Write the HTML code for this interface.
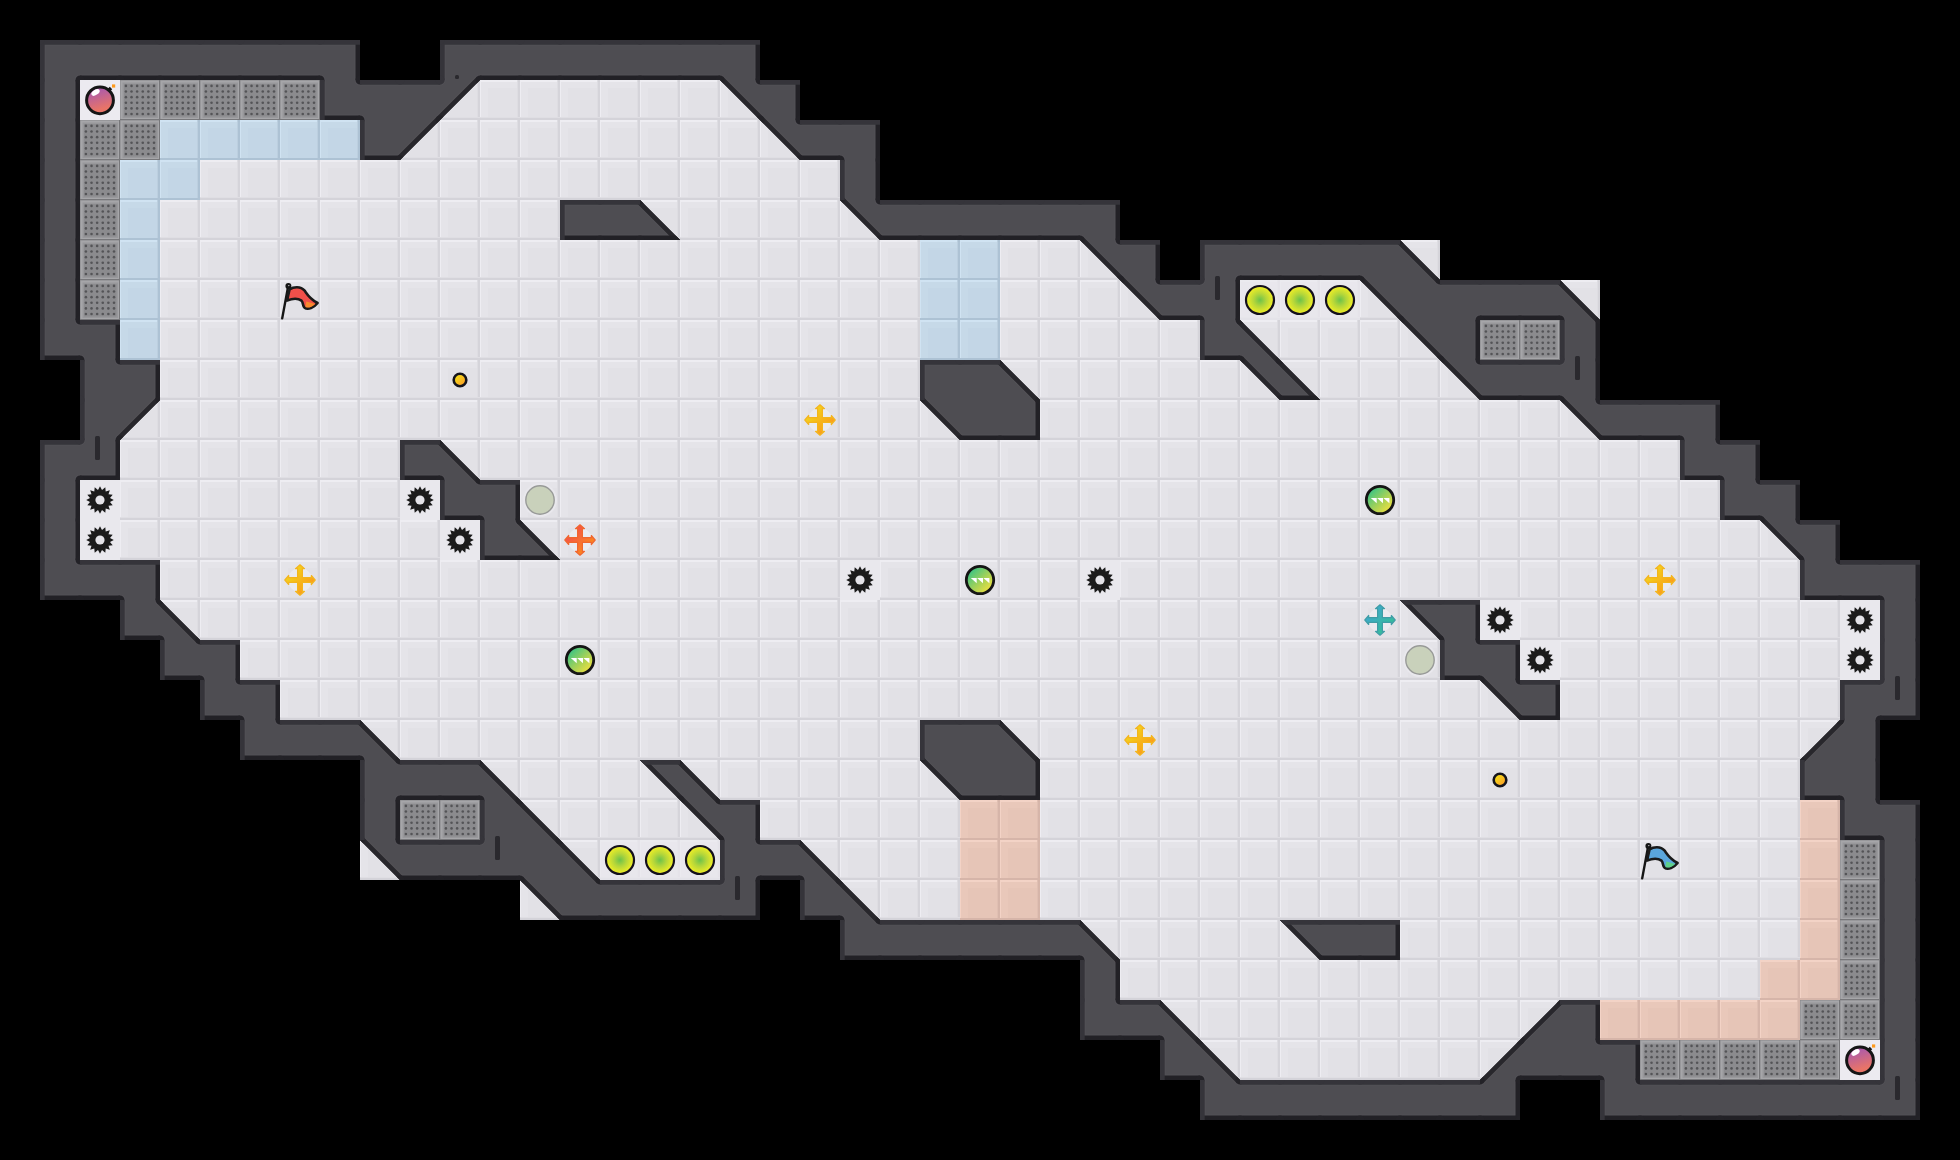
<!DOCTYPE html>
<html><head><meta charset="utf-8"><title>Map</title>
<style>html,body{margin:0;padding:0;background:#000;overflow:hidden}svg{display:block}</style></head>
<body><svg width="1960" height="1160" viewBox="0 0 1960 1160"><defs>
<pattern id="pf" width="40" height="40" patternUnits="userSpaceOnUse">
<rect width="40" height="40" fill="#e5e4e9"/><rect x="8" y="8" width="29" height="30" fill="#e2e1e6"/>
<rect width="40" height="2" fill="#eeedf2"/><rect width="1" height="40" fill="#eeedf2"/>
<rect x="37" width="1" height="40" fill="#dedde2"/><rect x="38" width="2" height="40" fill="#d5d4da"/>
<rect y="38" width="40" height="2" fill="#d4d3d9"/><rect y="37" width="40" height="1" fill="#dfdee3"/>
</pattern>
<pattern id="pb" width="40" height="40" patternUnits="userSpaceOnUse">
<rect width="40" height="40" fill="#c6d9e8"/><rect x="8" y="8" width="29" height="30" fill="#c3d6e6"/>
<rect width="40" height="2" fill="#d0e3f2"/><rect width="1" height="40" fill="#d0e3f2"/>
<rect x="37" width="1" height="40" fill="#bccfdf"/><rect x="38" width="2" height="40" fill="#adc2d4"/>
<rect y="38" width="40" height="2" fill="#adc2d4"/>
</pattern>
<pattern id="pr" width="40" height="40" patternUnits="userSpaceOnUse">
<rect width="40" height="40" fill="#e9c8ba"/><rect x="8" y="8" width="29" height="30" fill="#e6c5b7"/>
<rect width="40" height="2" fill="#f3d3c6"/><rect width="1" height="40" fill="#f3d3c6"/>
<rect x="37" width="1" height="40" fill="#e0bfb2"/><rect x="38" width="2" height="40" fill="#d6b5a9"/>
<rect y="38" width="40" height="2" fill="#d6b5a9"/>
</pattern>
<pattern id="pg" width="40" height="40" patternUnits="userSpaceOnUse">
<rect width="40" height="40" fill="#88888b"/><rect x=".5" y=".5" width="39" height="39" fill="#a6a6a9"/><rect x="2.5" y="2.5" width="35.5" height="35.5" fill="#98989b"/><rect x="4" y="4" width="32.5" height="32.5" fill="#8b8b8e"/><rect x="39" width="1" height="40" fill="#77777a"/><rect y="39" width="40" height="1" fill="#77777a"/>
<g fill="#545457"><circle cx="5.90" cy="5.90" r="1.3"/><circle cx="5.90" cy="11.52" r="1.3"/><circle cx="5.90" cy="17.14" r="1.3"/><circle cx="5.90" cy="22.76" r="1.3"/><circle cx="5.90" cy="28.38" r="1.3"/><circle cx="5.90" cy="34.00" r="1.3"/><circle cx="11.52" cy="5.90" r="1.3"/><circle cx="11.52" cy="11.52" r="1.3"/><circle cx="11.52" cy="17.14" r="1.3"/><circle cx="11.52" cy="22.76" r="1.3"/><circle cx="11.52" cy="28.38" r="1.3"/><circle cx="11.52" cy="34.00" r="1.3"/><circle cx="17.14" cy="5.90" r="1.3"/><circle cx="17.14" cy="11.52" r="1.3"/><circle cx="17.14" cy="17.14" r="1.3"/><circle cx="17.14" cy="22.76" r="1.3"/><circle cx="17.14" cy="28.38" r="1.3"/><circle cx="17.14" cy="34.00" r="1.3"/><circle cx="22.76" cy="5.90" r="1.3"/><circle cx="22.76" cy="11.52" r="1.3"/><circle cx="22.76" cy="17.14" r="1.3"/><circle cx="22.76" cy="22.76" r="1.3"/><circle cx="22.76" cy="28.38" r="1.3"/><circle cx="22.76" cy="34.00" r="1.3"/><circle cx="28.38" cy="5.90" r="1.3"/><circle cx="28.38" cy="11.52" r="1.3"/><circle cx="28.38" cy="17.14" r="1.3"/><circle cx="28.38" cy="22.76" r="1.3"/><circle cx="28.38" cy="28.38" r="1.3"/><circle cx="28.38" cy="34.00" r="1.3"/><circle cx="34.00" cy="5.90" r="1.3"/><circle cx="34.00" cy="11.52" r="1.3"/><circle cx="34.00" cy="17.14" r="1.3"/><circle cx="34.00" cy="22.76" r="1.3"/><circle cx="34.00" cy="28.38" r="1.3"/><circle cx="34.00" cy="34.00" r="1.3"/></g>
</pattern>
<radialGradient id="gb"><stop offset="0" stop-color="#6cc24a"/><stop offset=".45" stop-color="#b4d63a"/><stop offset="1" stop-color="#f4f024"/></radialGradient>
<linearGradient id="gp" x1="0" y1="0" x2="1" y2="1"><stop offset=".1" stop-color="#2fc28a"/><stop offset=".55" stop-color="#a6d257"/><stop offset=".9" stop-color="#f6e23c"/></linearGradient>
<linearGradient id="gbomb" x1="0" y1="0" x2=".3" y2="1"><stop offset=".1" stop-color="#a457b4"/><stop offset=".9" stop-color="#e87468"/></linearGradient>
<linearGradient id="gy" x1="0" y1="0" x2="1" y2="1"><stop offset=".2" stop-color="#f2d51c"/><stop offset=".8" stop-color="#fb9a1c"/></linearGradient>
<linearGradient id="go" x1="0" y1="0" x2="1" y2="1"><stop offset=".2" stop-color="#f4504a"/><stop offset=".8" stop-color="#fb8a1e"/></linearGradient>
<linearGradient id="gt" x1="0" y1="0" x2="1" y2="1"><stop offset=".2" stop-color="#3ea8cc"/><stop offset=".8" stop-color="#36bd98"/></linearGradient>
<linearGradient id="gc" x1="0" y1="0" x2="1" y2="1"><stop offset=".2" stop-color="#f6dc18"/><stop offset=".8" stop-color="#fba428"/></linearGradient>
<g id="gear"><rect x="-20" y="-20" width="40" height="40" fill="#e9e8ed"/><path d="M0.0 -13.8L2.0 -10.0L5.3 -12.7L5.7 -8.5L9.8 -9.8L8.5 -5.7L12.7 -5.3L10.0 -2.0L13.8 -0.0L10.0 2.0L12.7 5.3L8.5 5.7L9.8 9.8L5.7 8.5L5.3 12.7L2.0 10.0L0.0 13.8L-2.0 10.0L-5.3 12.7L-5.7 8.5L-9.8 9.8L-8.5 5.7L-12.7 5.3L-10.0 2.0L-13.8 0.0L-10.0 -2.0L-12.7 -5.3L-8.5 -5.7L-9.8 -9.8L-5.7 -8.5L-5.3 -12.7L-2.0 -10.0z" fill="#1b1b1b"/><circle r="4.6" fill="#e4e3e8"/></g>
<g id="bomb"><rect x="-20" y="-20" width="40" height="40" fill="#eceaf0"/><circle cx="0" cy=".3" r="13.4" fill="url(#gbomb)" stroke="#151515" stroke-width="3"/><path d="M8.5 -9.5L11 -12" stroke="#151515" stroke-width="3.4"/><rect x="12" y="-15.6" width="3.2" height="3.2" fill="#ff9a1c"/><ellipse cx="-4.5" cy="-7.6" rx="4.6" ry="2.6" fill="#fff" transform="rotate(-32 -4.5 -7.6)"/></g>
<g id="flagbase"><path d="M8.4 5L2.2 38.4" stroke="#151515" stroke-width="2.4" stroke-linecap="round" fill="none"/><circle cx="8.4" cy="6" r="3" fill="#151515"/><circle cx="8.8" cy="5.6" r=".7" fill="#ccc"/></g>
<g id="rflag"><use href="#flagbase"/><path d="M9.6 9.3C13 7 20.5 5.6 24.6 10.6C27 14 29.5 18.8 37.6 23C34 27.6 28 30.2 24.5 27.6C22.3 25.6 23.5 22.6 21.5 20.6C18 18.2 12 18.6 7 20.6z" fill="#f0504a" stroke="#1a1a1a" stroke-width="2.6" stroke-linejoin="round"/><path d="M26.3 21.4L35.2 23.9C32 26.8 28 28.6 25.4 26.9z" fill="#f98a2c"/></g>
<g id="bflag"><use href="#flagbase"/><path d="M9.6 9.3C13 7 20.5 5.6 24.6 10.6C27 14 29.5 18.8 37.6 23C34 27.6 28 30.2 24.5 27.6C22.3 25.6 23.5 22.6 21.5 20.6C18 18.2 12 18.6 7 20.6z" fill="#5aa6dc" stroke="#1a1a1a" stroke-width="2.6" stroke-linejoin="round"/><path d="M26.3 21.4L35.2 23.9C32 26.8 28 28.6 25.4 26.9z" fill="#5fd08a"/></g>
<g id="coin"><circle r="6.3" fill="url(#gc)" stroke="#15151c" stroke-width="2.6"/></g>
<g id="ycross"><circle r="12" fill="#eeedf2" opacity=".8"/><path d="M0 -15.2L4.5 -11.3L2.4 -11.3L2.4 -2.4L11.3 -2.4L11.3 -4.5L15.2 0L11.3 4.5L11.3 2.4L2.4 2.4L2.4 11.3L4.5 11.3L0 15.2L-4.5 11.3L-2.4 11.3L-2.4 2.4L-11.3 2.4L-11.3 4.5L-15.2 0L-11.3 -4.5L-11.3 -2.4L-2.4 -2.4L-2.4 -11.3L-4.5 -11.3z" fill="url(#gy)" stroke="#f3b51e" stroke-width="1.2" stroke-linejoin="round"/></g>
<g id="ocross"><circle r="12" fill="#eeedf2" opacity=".8"/><path d="M0 -15.2L4.5 -11.3L2.4 -11.3L2.4 -2.4L11.3 -2.4L11.3 -4.5L15.2 0L11.3 4.5L11.3 2.4L2.4 2.4L2.4 11.3L4.5 11.3L0 15.2L-4.5 11.3L-2.4 11.3L-2.4 2.4L-11.3 2.4L-11.3 4.5L-15.2 0L-11.3 -4.5L-11.3 -2.4L-2.4 -2.4L-2.4 -11.3L-4.5 -11.3z" fill="url(#go)" stroke="#f0662e" stroke-width="1.2" stroke-linejoin="round"/></g>
<g id="tcross"><circle r="12" fill="#eeedf2" opacity=".8"/><path d="M0 -15.2L4.5 -11.3L2.4 -11.3L2.4 -2.4L11.3 -2.4L11.3 -4.5L15.2 0L11.3 4.5L11.3 2.4L2.4 2.4L2.4 11.3L4.5 11.3L0 15.2L-4.5 11.3L-2.4 11.3L-2.4 2.4L-11.3 2.4L-11.3 4.5L-15.2 0L-11.3 -4.5L-11.3 -2.4L-2.4 -2.4L-2.4 -11.3L-4.5 -11.3z" fill="url(#gt)" stroke="#3f9da6" stroke-width="1.2" stroke-linejoin="round"/></g>
<g id="portal"><circle r="17" fill="#e9e8ed"/><circle r="14.2" fill="#c9d1bb" stroke="#989a98" stroke-width="1.4"/></g>
<g id="pup"><circle r="13.7" fill="url(#gp)" stroke="#151515" stroke-width="2.8"/><path d="M-9.2 -2H-3.3V3.2zM-2.9 -2H3V3.2zM3.4 -2H9.4V3.2z" fill="#fff"/></g>
<g id="boost"><rect x="-20" y="-20" width="40" height="40" fill="#e9e8ed" opacity=".75"/><circle r="14" fill="url(#gb)" stroke="#14101c" stroke-width="2.2"/></g>
</defs>
<rect width="1960" height="1160" fill="#000"/>
<path d="M80 80h40v40h-40zM440 80h320v40h-320zM400 120h400v40h-400zM200 160h640v40h-640zM160 200h400v40h-400zM640 200h240v40h-240zM160 240h760v40h-760zM1000 240h120v40h-120zM1400 240h40v40h-40zM160 280h760v40h-760zM1000 280h160v40h-160zM1240 280h160v40h-160zM1560 280h40v40h-40zM160 320h760v40h-760zM1000 320h200v40h-200zM1240 320h200v40h-200zM160 360h760v40h-760zM1000 360h480v40h-480zM120 400h840v40h-840zM1040 400h560v40h-560zM120 440h280v40h-280zM440 440h1240v40h-1240zM80 480h360v40h-360zM520 480h1200v40h-1200zM80 520h400v40h-400zM520 520h1280v40h-1280zM160 560h1640v40h-1640zM160 600h1280v40h-1280zM1480 600h400v40h-400zM240 640h1200v40h-1200zM1520 640h360v40h-360zM280 680h1240v40h-1240zM1560 680h280v40h-280zM360 720h560v40h-560zM1000 720h840v40h-840zM480 760h480v40h-480zM1040 760h760v40h-760zM520 800h200v40h-200zM760 800h200v40h-200zM1040 800h760v40h-760zM360 840h40v40h-40zM560 840h160v40h-160zM800 840h160v40h-160zM1040 840h760v40h-760zM520 880h40v40h-40zM840 880h120v40h-120zM1040 880h760v40h-760zM1080 920h240v40h-240zM1400 920h400v40h-400zM1120 960h640v40h-640zM1160 1000h400v40h-400zM1200 1040h320v40h-320zM1840 1040h40v40h-40z" fill="url(#pf)"/>
<path d="M160 120h200v40h-200zM120 160h80v40h-80zM120 200h40v40h-40zM120 240h40v40h-40zM920 240h80v40h-80zM120 280h40v40h-40zM920 280h80v40h-80zM120 320h40v40h-40zM920 320h80v40h-80z" fill="url(#pb)"/>
<path d="M960 800h80v40h-80zM1800 800h40v40h-40zM960 840h80v40h-80zM1800 840h40v40h-40zM960 880h80v40h-80zM1800 880h40v40h-40zM1800 920h40v40h-40zM1760 960h80v40h-80zM1600 1000h200v40h-200z" fill="url(#pr)"/>
<path d="M120 80h200v40h-200zM80 120h80v40h-80zM80 160h40v40h-40zM80 200h40v40h-40zM80 240h40v40h-40zM80 280h40v40h-40zM1480 320h80v40h-80zM400 800h80v40h-80zM1840 840h40v40h-40zM1840 880h40v40h-40zM1840 920h40v40h-40zM1840 960h40v40h-40zM1800 1000h80v40h-80zM1640 1040h200v40h-200z" fill="url(#pg)"/>
<clipPath id="wc"><path d="M40 40h320v40h-320zM440 40h320v40h-320zM40 80h40v40h-40zM320 80h120v40h-120zM440 80L480 80L440 120zM720 80L760 80L760 120zM760 80h40v40h-40zM40 120h40v40h-40zM360 120h40v40h-40zM400 120L440 120L400 160zM760 120L800 120L800 160zM800 120h80v40h-80zM40 160h40v40h-40zM840 160h40v40h-40zM40 200h40v40h-40zM560 200h80v40h-80zM640 200L680 240L640 240zM840 200L880 200L880 240zM880 200h240v40h-240zM40 240h40v40h-40zM1080 240L1120 240L1120 280zM1120 240h40v40h-40zM1200 240h200v40h-200zM1400 240L1440 280L1400 280zM40 280h40v40h-40zM1120 280L1160 280L1160 320zM1160 280h80v40h-80zM1360 280L1400 280L1400 320zM1400 280h160v40h-160zM1560 280L1600 320L1560 320zM40 320h80v40h-80zM1200 320h40v40h-40zM1240 320L1280 360L1240 360zM1400 320L1440 320L1440 360zM1440 320h40v40h-40zM1560 320h40v40h-40zM80 360h80v40h-80zM920 360h80v40h-80zM1000 360L1040 400L1000 400zM1240 360L1280 360L1280 400zM1280 360L1320 400L1280 400zM1440 360L1480 360L1480 400zM1480 360h120v40h-120zM80 400h40v40h-40zM120 400L160 400L120 440zM920 400L960 400L960 440zM960 400h80v40h-80zM1560 400L1600 400L1600 440zM1600 400h120v40h-120zM40 440h80v40h-80zM400 440h40v40h-40zM440 440L480 480L440 480zM1680 440h80v40h-80zM40 480h40v40h-40zM440 480h80v40h-80zM1720 480h80v40h-80zM40 520h40v40h-40zM480 520h40v40h-40zM520 520L560 560L520 560zM1760 520L1800 520L1800 560zM1800 520h40v40h-40zM40 560h120v40h-120zM1800 560h120v40h-120zM120 600h40v40h-40zM160 600L200 640L160 640zM1400 600L1440 600L1440 640zM1440 600h40v40h-40zM1880 600h40v40h-40zM160 640h80v40h-80zM1440 640h80v40h-80zM1880 640h40v40h-40zM200 680h80v40h-80zM1480 680L1520 680L1520 720zM1520 680h40v40h-40zM1840 680h80v40h-80zM240 720h120v40h-120zM360 720L400 760L360 760zM920 720h80v40h-80zM1000 720L1040 760L1000 760zM1840 720L1840 760L1800 760zM1840 720h40v40h-40zM360 760h120v40h-120zM480 760L520 800L480 800zM640 760L680 760L680 800zM680 760L720 800L680 800zM920 760L960 760L960 800zM960 760h80v40h-80zM1800 760h80v40h-80zM360 800h40v40h-40zM480 800h40v40h-40zM520 800L560 840L520 840zM680 800L720 800L720 840zM720 800h40v40h-40zM1840 800h80v40h-80zM360 840L400 840L400 880zM400 840h160v40h-160zM560 840L600 880L560 880zM720 840h80v40h-80zM800 840L840 880L800 880zM1880 840h40v40h-40zM520 880L560 880L560 920zM560 880h200v40h-200zM800 880h40v40h-40zM840 880L880 920L840 920zM1880 880h40v40h-40zM840 920h240v40h-240zM1080 920L1120 960L1080 960zM1280 920L1320 920L1320 960zM1320 920h80v40h-80zM1880 920h40v40h-40zM1080 960h40v40h-40zM1880 960h40v40h-40zM1080 1000h80v40h-80zM1160 1000L1200 1040L1160 1040zM1560 1000L1560 1040L1520 1040zM1560 1000h40v40h-40zM1880 1000h40v40h-40zM1160 1040h40v40h-40zM1200 1040L1240 1080L1200 1080zM1520 1040L1520 1080L1480 1080zM1520 1040h120v40h-120zM1880 1040h40v40h-40zM1200 1080h320v40h-320zM1600 1080h320v40h-320z"/></clipPath>
<path d="M40 40h320v40h-320zM440 40h320v40h-320zM40 80h40v40h-40zM320 80h120v40h-120zM440 80L480 80L440 120zM720 80L760 80L760 120zM760 80h40v40h-40zM40 120h40v40h-40zM360 120h40v40h-40zM400 120L440 120L400 160zM760 120L800 120L800 160zM800 120h80v40h-80zM40 160h40v40h-40zM840 160h40v40h-40zM40 200h40v40h-40zM560 200h80v40h-80zM640 200L680 240L640 240zM840 200L880 200L880 240zM880 200h240v40h-240zM40 240h40v40h-40zM1080 240L1120 240L1120 280zM1120 240h40v40h-40zM1200 240h200v40h-200zM1400 240L1440 280L1400 280zM40 280h40v40h-40zM1120 280L1160 280L1160 320zM1160 280h80v40h-80zM1360 280L1400 280L1400 320zM1400 280h160v40h-160zM1560 280L1600 320L1560 320zM40 320h80v40h-80zM1200 320h40v40h-40zM1240 320L1280 360L1240 360zM1400 320L1440 320L1440 360zM1440 320h40v40h-40zM1560 320h40v40h-40zM80 360h80v40h-80zM920 360h80v40h-80zM1000 360L1040 400L1000 400zM1240 360L1280 360L1280 400zM1280 360L1320 400L1280 400zM1440 360L1480 360L1480 400zM1480 360h120v40h-120zM80 400h40v40h-40zM120 400L160 400L120 440zM920 400L960 400L960 440zM960 400h80v40h-80zM1560 400L1600 400L1600 440zM1600 400h120v40h-120zM40 440h80v40h-80zM400 440h40v40h-40zM440 440L480 480L440 480zM1680 440h80v40h-80zM40 480h40v40h-40zM440 480h80v40h-80zM1720 480h80v40h-80zM40 520h40v40h-40zM480 520h40v40h-40zM520 520L560 560L520 560zM1760 520L1800 520L1800 560zM1800 520h40v40h-40zM40 560h120v40h-120zM1800 560h120v40h-120zM120 600h40v40h-40zM160 600L200 640L160 640zM1400 600L1440 600L1440 640zM1440 600h40v40h-40zM1880 600h40v40h-40zM160 640h80v40h-80zM1440 640h80v40h-80zM1880 640h40v40h-40zM200 680h80v40h-80zM1480 680L1520 680L1520 720zM1520 680h40v40h-40zM1840 680h80v40h-80zM240 720h120v40h-120zM360 720L400 760L360 760zM920 720h80v40h-80zM1000 720L1040 760L1000 760zM1840 720L1840 760L1800 760zM1840 720h40v40h-40zM360 760h120v40h-120zM480 760L520 800L480 800zM640 760L680 760L680 800zM680 760L720 800L680 800zM920 760L960 760L960 800zM960 760h80v40h-80zM1800 760h80v40h-80zM360 800h40v40h-40zM480 800h40v40h-40zM520 800L560 840L520 840zM680 800L720 800L720 840zM720 800h40v40h-40zM1840 800h80v40h-80zM360 840L400 840L400 880zM400 840h160v40h-160zM560 840L600 880L560 880zM720 840h80v40h-80zM800 840L840 880L800 880zM1880 840h40v40h-40zM520 880L560 880L560 920zM560 880h200v40h-200zM800 880h40v40h-40zM840 880L880 920L840 920zM1880 880h40v40h-40zM840 920h240v40h-240zM1080 920L1120 960L1080 960zM1280 920L1320 920L1320 960zM1320 920h80v40h-80zM1880 920h40v40h-40zM1080 960h40v40h-40zM1880 960h40v40h-40zM1080 1000h80v40h-80zM1160 1000L1200 1040L1160 1040zM1560 1000L1560 1040L1520 1040zM1560 1000h40v40h-40zM1880 1000h40v40h-40zM1160 1040h40v40h-40zM1200 1040L1240 1080L1200 1080zM1520 1040L1520 1080L1480 1080zM1520 1040h120v40h-120zM1880 1040h40v40h-40zM1200 1080h320v40h-320zM1600 1080h320v40h-320z" fill="#4e4d52"/>
<g clip-path="url(#wc)" fill="none">
<path d="M40 40L80 40M40 40L40 80M80 40L120 40M80 80L120 80M120 40L160 40M120 80L160 80M160 40L200 40M160 80L200 80M200 40L240 40M200 80L240 80M240 40L280 40M240 80L280 80M280 40L320 40M280 80L320 80M320 40L360 40M360 40L360 80M440 40L480 40M440 40L440 80M480 40L520 40M480 80L520 80M520 40L560 40M520 80L560 80M560 40L600 40M560 80L600 80M600 40L640 40M600 80L640 80M640 40L680 40M640 80L680 80M680 40L720 40M680 80L720 80M720 40L760 40M760 40L760 80M40 80L40 120M80 80L80 120M320 80L320 120M320 120L360 120M360 80L400 80M400 80L440 80M480 80L440 120M720 80L760 120M760 80L800 80M800 80L800 120M40 120L40 160M80 120L80 160M360 120L360 160M360 160L400 160M440 120L400 160M760 120L800 160M800 120L840 120M800 160L840 160M840 120L880 120M880 120L880 160M40 160L40 200M80 160L80 200M840 160L840 200M880 160L880 200M40 200L40 240M80 200L80 240M560 200L600 200M560 200L560 240M560 240L600 240M600 200L640 200M600 240L640 240M640 240L680 240M640 200L680 240M840 200L880 240M880 200L920 200M880 240L920 240M920 200L960 200M920 240L960 240M960 200L1000 200M960 240L1000 240M1000 200L1040 200M1000 240L1040 240M1040 200L1080 200M1040 240L1080 240M1080 200L1120 200M1120 200L1120 240M40 240L40 280M80 240L80 280M1080 240L1120 280M1120 240L1160 240M1160 240L1160 280M1200 240L1240 240M1200 240L1200 280M1240 240L1280 240M1240 280L1280 280M1280 240L1320 240M1280 280L1320 280M1320 240L1360 240M1320 280L1360 280M1360 240L1400 240M1400 240L1440 280M40 280L40 320M80 280L80 320M1120 280L1160 320M1160 280L1200 280M1160 320L1200 320M1240 280L1240 320M1360 280L1400 320M1440 280L1480 280M1480 280L1520 280M1480 320L1520 320M1520 280L1560 280M1520 320L1560 320M1560 280L1600 320M40 320L40 360M40 360L80 360M80 320L120 320M120 320L120 360M1200 320L1200 360M1200 360L1240 360M1240 320L1280 360M1400 320L1440 360M1480 320L1480 360M1560 320L1560 360M1600 320L1600 360M80 360L80 400M120 360L160 360M160 360L160 400M920 360L960 360M920 360L920 400M960 360L1000 360M1000 360L1040 400M1240 360L1280 400M1280 400L1320 400M1280 360L1320 400M1440 360L1480 400M1480 360L1520 360M1480 400L1520 400M1520 360L1560 360M1520 400L1560 400M1600 360L1600 400M80 400L80 440M160 400L120 440M920 400L960 440M960 440L1000 440M1000 440L1040 440M1040 400L1040 440M1560 400L1600 440M1600 400L1640 400M1600 440L1640 440M1640 400L1680 400M1640 440L1680 440M1680 400L1720 400M1720 400L1720 440M40 440L80 440M40 440L40 480M80 480L120 480M120 440L120 480M400 440L440 440M400 440L400 480M400 480L440 480M440 440L480 480M1680 440L1680 480M1680 480L1720 480M1720 440L1760 440M1760 440L1760 480M40 480L40 520M80 480L80 520M440 480L440 520M440 520L480 520M480 480L520 480M520 480L520 520M1720 480L1720 520M1720 520L1760 520M1760 480L1800 480M1800 480L1800 520M40 520L40 560M80 520L80 560M480 520L480 560M480 560L520 560M520 560L560 560M520 520L560 560M1760 520L1800 560M1800 520L1840 520M1840 520L1840 560M40 560L40 600M40 600L80 600M80 560L120 560M80 600L120 600M120 560L160 560M160 560L160 600M1800 560L1800 600M1800 600L1840 600M1840 560L1880 560M1840 600L1880 600M1880 560L1920 560M1920 560L1920 600M120 600L120 640M120 640L160 640M160 600L200 640M1400 600L1440 600M1400 600L1440 640M1440 600L1480 600M1480 600L1480 640M1880 600L1880 640M1920 600L1920 640M160 640L160 680M160 680L200 680M200 640L240 640M240 640L240 680M1440 640L1440 680M1440 680L1480 680M1480 640L1520 640M1520 640L1520 680M1880 640L1880 680M1920 640L1920 680M200 680L200 720M200 720L240 720M240 680L280 680M280 680L280 720M1480 680L1520 720M1520 680L1560 680M1520 720L1560 720M1560 680L1560 720M1840 680L1880 680M1840 680L1840 720M1880 720L1920 720M1920 680L1920 720M240 720L240 760M240 760L280 760M280 720L320 720M280 760L320 760M320 720L360 720M320 760L360 760M360 720L400 760M920 720L960 720M920 720L920 760M960 720L1000 720M1000 720L1040 760M1840 720L1800 760M1880 720L1880 760M360 760L360 800M400 760L440 760M400 800L440 800M440 760L480 760M440 800L480 800M480 760L520 800M640 760L680 760M640 760L680 800M680 760L720 800M920 760L960 800M960 800L1000 800M1000 800L1040 800M1040 760L1040 800M1800 760L1800 800M1800 800L1840 800M1880 760L1880 800M360 800L360 840M400 800L400 840M480 800L480 840M520 800L560 840M680 800L720 840M720 800L760 800M760 800L760 840M1840 800L1840 840M1840 840L1880 840M1880 800L1920 800M1920 800L1920 840M360 840L400 880M400 840L440 840M400 880L440 880M440 840L480 840M440 880L480 880M480 880L520 880M560 840L600 880M720 840L720 880M760 840L800 840M760 880L800 880M800 840L840 880M1880 840L1880 880M1920 840L1920 880M520 880L560 920M560 920L600 920M600 880L640 880M600 920L640 920M640 880L680 880M640 920L680 920M680 880L720 880M680 920L720 920M720 920L760 920M760 880L760 920M800 880L800 920M800 920L840 920M840 880L880 920M1880 880L1880 920M1920 880L1920 920M840 920L840 960M840 960L880 960M880 920L920 920M880 960L920 960M920 920L960 920M920 960L960 960M960 920L1000 920M960 960L1000 960M1000 920L1040 920M1000 960L1040 960M1040 920L1080 920M1040 960L1080 960M1080 920L1120 960M1280 920L1320 920M1280 920L1320 960M1320 920L1360 920M1320 960L1360 960M1360 920L1400 920M1360 960L1400 960M1400 920L1400 960M1880 920L1880 960M1920 920L1920 960M1080 960L1080 1000M1120 960L1120 1000M1880 960L1880 1000M1920 960L1920 1000M1080 1000L1080 1040M1080 1040L1120 1040M1120 1000L1160 1000M1120 1040L1160 1040M1160 1000L1200 1040M1560 1000L1520 1040M1560 1000L1600 1000M1600 1000L1600 1040M1880 1000L1880 1040M1920 1000L1920 1040M1160 1040L1160 1080M1160 1080L1200 1080M1200 1040L1240 1080M1520 1040L1480 1080M1520 1080L1560 1080M1560 1080L1600 1080M1600 1040L1640 1040M1640 1040L1640 1080M1880 1040L1880 1080M1920 1040L1920 1080M1200 1080L1200 1120M1200 1120L1240 1120M1240 1080L1280 1080M1240 1120L1280 1120M1280 1080L1320 1080M1280 1120L1320 1120M1320 1080L1360 1080M1320 1120L1360 1120M1360 1080L1400 1080M1360 1120L1400 1120M1400 1080L1440 1080M1400 1120L1440 1120M1440 1080L1480 1080M1440 1120L1480 1120M1480 1120L1520 1120M1520 1080L1520 1120M1600 1080L1600 1120M1600 1120L1640 1120M1640 1080L1680 1080M1640 1120L1680 1120M1680 1080L1720 1080M1680 1120L1720 1120M1720 1080L1760 1080M1720 1120L1760 1120M1760 1080L1800 1080M1760 1120L1800 1120M1800 1080L1840 1080M1800 1120L1840 1120M1840 1080L1880 1080M1840 1120L1880 1120M1880 1120L1920 1120M1920 1080L1920 1120" stroke="#535257" stroke-width="11"/><path d="M34.5 40a5.5 5.5 0 1 0 11.0 0a5.5 5.5 0 1 0 -11.0 0zM74.5 40a5.5 5.5 0 1 0 11.0 0a5.5 5.5 0 1 0 -11.0 0zM34.5 80a5.5 5.5 0 1 0 11.0 0a5.5 5.5 0 1 0 -11.0 0zM114.5 40a5.5 5.5 0 1 0 11.0 0a5.5 5.5 0 1 0 -11.0 0zM74.5 80a5.5 5.5 0 1 0 11.0 0a5.5 5.5 0 1 0 -11.0 0zM114.5 80a5.5 5.5 0 1 0 11.0 0a5.5 5.5 0 1 0 -11.0 0zM154.5 40a5.5 5.5 0 1 0 11.0 0a5.5 5.5 0 1 0 -11.0 0zM154.5 80a5.5 5.5 0 1 0 11.0 0a5.5 5.5 0 1 0 -11.0 0zM194.5 40a5.5 5.5 0 1 0 11.0 0a5.5 5.5 0 1 0 -11.0 0zM194.5 80a5.5 5.5 0 1 0 11.0 0a5.5 5.5 0 1 0 -11.0 0zM234.5 40a5.5 5.5 0 1 0 11.0 0a5.5 5.5 0 1 0 -11.0 0zM234.5 80a5.5 5.5 0 1 0 11.0 0a5.5 5.5 0 1 0 -11.0 0zM274.5 40a5.5 5.5 0 1 0 11.0 0a5.5 5.5 0 1 0 -11.0 0zM274.5 80a5.5 5.5 0 1 0 11.0 0a5.5 5.5 0 1 0 -11.0 0zM314.5 40a5.5 5.5 0 1 0 11.0 0a5.5 5.5 0 1 0 -11.0 0zM314.5 80a5.5 5.5 0 1 0 11.0 0a5.5 5.5 0 1 0 -11.0 0zM354.5 40a5.5 5.5 0 1 0 11.0 0a5.5 5.5 0 1 0 -11.0 0zM354.5 80a5.5 5.5 0 1 0 11.0 0a5.5 5.5 0 1 0 -11.0 0zM434.5 40a5.5 5.5 0 1 0 11.0 0a5.5 5.5 0 1 0 -11.0 0zM474.5 40a5.5 5.5 0 1 0 11.0 0a5.5 5.5 0 1 0 -11.0 0zM434.5 80a5.5 5.5 0 1 0 11.0 0a5.5 5.5 0 1 0 -11.0 0zM514.5 40a5.5 5.5 0 1 0 11.0 0a5.5 5.5 0 1 0 -11.0 0zM474.5 80a5.5 5.5 0 1 0 11.0 0a5.5 5.5 0 1 0 -11.0 0zM514.5 80a5.5 5.5 0 1 0 11.0 0a5.5 5.5 0 1 0 -11.0 0zM554.5 40a5.5 5.5 0 1 0 11.0 0a5.5 5.5 0 1 0 -11.0 0zM554.5 80a5.5 5.5 0 1 0 11.0 0a5.5 5.5 0 1 0 -11.0 0zM594.5 40a5.5 5.5 0 1 0 11.0 0a5.5 5.5 0 1 0 -11.0 0zM594.5 80a5.5 5.5 0 1 0 11.0 0a5.5 5.5 0 1 0 -11.0 0zM634.5 40a5.5 5.5 0 1 0 11.0 0a5.5 5.5 0 1 0 -11.0 0zM634.5 80a5.5 5.5 0 1 0 11.0 0a5.5 5.5 0 1 0 -11.0 0zM674.5 40a5.5 5.5 0 1 0 11.0 0a5.5 5.5 0 1 0 -11.0 0zM674.5 80a5.5 5.5 0 1 0 11.0 0a5.5 5.5 0 1 0 -11.0 0zM714.5 40a5.5 5.5 0 1 0 11.0 0a5.5 5.5 0 1 0 -11.0 0zM714.5 80a5.5 5.5 0 1 0 11.0 0a5.5 5.5 0 1 0 -11.0 0zM754.5 40a5.5 5.5 0 1 0 11.0 0a5.5 5.5 0 1 0 -11.0 0zM754.5 80a5.5 5.5 0 1 0 11.0 0a5.5 5.5 0 1 0 -11.0 0zM34.5 120a5.5 5.5 0 1 0 11.0 0a5.5 5.5 0 1 0 -11.0 0zM74.5 120a5.5 5.5 0 1 0 11.0 0a5.5 5.5 0 1 0 -11.0 0zM314.5 120a5.5 5.5 0 1 0 11.0 0a5.5 5.5 0 1 0 -11.0 0zM354.5 120a5.5 5.5 0 1 0 11.0 0a5.5 5.5 0 1 0 -11.0 0zM394.5 80a5.5 5.5 0 1 0 11.0 0a5.5 5.5 0 1 0 -11.0 0zM434.5 120a5.5 5.5 0 1 0 11.0 0a5.5 5.5 0 1 0 -11.0 0zM754.5 120a5.5 5.5 0 1 0 11.0 0a5.5 5.5 0 1 0 -11.0 0zM794.5 80a5.5 5.5 0 1 0 11.0 0a5.5 5.5 0 1 0 -11.0 0zM794.5 120a5.5 5.5 0 1 0 11.0 0a5.5 5.5 0 1 0 -11.0 0zM34.5 160a5.5 5.5 0 1 0 11.0 0a5.5 5.5 0 1 0 -11.0 0zM74.5 160a5.5 5.5 0 1 0 11.0 0a5.5 5.5 0 1 0 -11.0 0zM354.5 160a5.5 5.5 0 1 0 11.0 0a5.5 5.5 0 1 0 -11.0 0zM394.5 160a5.5 5.5 0 1 0 11.0 0a5.5 5.5 0 1 0 -11.0 0zM794.5 160a5.5 5.5 0 1 0 11.0 0a5.5 5.5 0 1 0 -11.0 0zM834.5 120a5.5 5.5 0 1 0 11.0 0a5.5 5.5 0 1 0 -11.0 0zM834.5 160a5.5 5.5 0 1 0 11.0 0a5.5 5.5 0 1 0 -11.0 0zM874.5 120a5.5 5.5 0 1 0 11.0 0a5.5 5.5 0 1 0 -11.0 0zM874.5 160a5.5 5.5 0 1 0 11.0 0a5.5 5.5 0 1 0 -11.0 0zM34.5 200a5.5 5.5 0 1 0 11.0 0a5.5 5.5 0 1 0 -11.0 0zM74.5 200a5.5 5.5 0 1 0 11.0 0a5.5 5.5 0 1 0 -11.0 0zM834.5 200a5.5 5.5 0 1 0 11.0 0a5.5 5.5 0 1 0 -11.0 0zM874.5 200a5.5 5.5 0 1 0 11.0 0a5.5 5.5 0 1 0 -11.0 0zM34.5 240a5.5 5.5 0 1 0 11.0 0a5.5 5.5 0 1 0 -11.0 0zM74.5 240a5.5 5.5 0 1 0 11.0 0a5.5 5.5 0 1 0 -11.0 0zM554.5 200a5.5 5.5 0 1 0 11.0 0a5.5 5.5 0 1 0 -11.0 0zM594.5 200a5.5 5.5 0 1 0 11.0 0a5.5 5.5 0 1 0 -11.0 0zM554.5 240a5.5 5.5 0 1 0 11.0 0a5.5 5.5 0 1 0 -11.0 0zM594.5 240a5.5 5.5 0 1 0 11.0 0a5.5 5.5 0 1 0 -11.0 0zM634.5 200a5.5 5.5 0 1 0 11.0 0a5.5 5.5 0 1 0 -11.0 0zM634.5 240a5.5 5.5 0 1 0 11.0 0a5.5 5.5 0 1 0 -11.0 0zM674.5 240a5.5 5.5 0 1 0 11.0 0a5.5 5.5 0 1 0 -11.0 0zM874.5 240a5.5 5.5 0 1 0 11.0 0a5.5 5.5 0 1 0 -11.0 0zM914.5 200a5.5 5.5 0 1 0 11.0 0a5.5 5.5 0 1 0 -11.0 0zM914.5 240a5.5 5.5 0 1 0 11.0 0a5.5 5.5 0 1 0 -11.0 0zM954.5 200a5.5 5.5 0 1 0 11.0 0a5.5 5.5 0 1 0 -11.0 0zM954.5 240a5.5 5.5 0 1 0 11.0 0a5.5 5.5 0 1 0 -11.0 0zM994.5 200a5.5 5.5 0 1 0 11.0 0a5.5 5.5 0 1 0 -11.0 0zM994.5 240a5.5 5.5 0 1 0 11.0 0a5.5 5.5 0 1 0 -11.0 0zM1034.5 200a5.5 5.5 0 1 0 11.0 0a5.5 5.5 0 1 0 -11.0 0zM1034.5 240a5.5 5.5 0 1 0 11.0 0a5.5 5.5 0 1 0 -11.0 0zM1074.5 200a5.5 5.5 0 1 0 11.0 0a5.5 5.5 0 1 0 -11.0 0zM1074.5 240a5.5 5.5 0 1 0 11.0 0a5.5 5.5 0 1 0 -11.0 0zM1114.5 200a5.5 5.5 0 1 0 11.0 0a5.5 5.5 0 1 0 -11.0 0zM1114.5 240a5.5 5.5 0 1 0 11.0 0a5.5 5.5 0 1 0 -11.0 0zM34.5 280a5.5 5.5 0 1 0 11.0 0a5.5 5.5 0 1 0 -11.0 0zM74.5 280a5.5 5.5 0 1 0 11.0 0a5.5 5.5 0 1 0 -11.0 0zM1114.5 280a5.5 5.5 0 1 0 11.0 0a5.5 5.5 0 1 0 -11.0 0zM1154.5 240a5.5 5.5 0 1 0 11.0 0a5.5 5.5 0 1 0 -11.0 0zM1154.5 280a5.5 5.5 0 1 0 11.0 0a5.5 5.5 0 1 0 -11.0 0zM1194.5 240a5.5 5.5 0 1 0 11.0 0a5.5 5.5 0 1 0 -11.0 0zM1234.5 240a5.5 5.5 0 1 0 11.0 0a5.5 5.5 0 1 0 -11.0 0zM1194.5 280a5.5 5.5 0 1 0 11.0 0a5.5 5.5 0 1 0 -11.0 0zM1274.5 240a5.5 5.5 0 1 0 11.0 0a5.5 5.5 0 1 0 -11.0 0zM1234.5 280a5.5 5.5 0 1 0 11.0 0a5.5 5.5 0 1 0 -11.0 0zM1274.5 280a5.5 5.5 0 1 0 11.0 0a5.5 5.5 0 1 0 -11.0 0zM1314.5 240a5.5 5.5 0 1 0 11.0 0a5.5 5.5 0 1 0 -11.0 0zM1314.5 280a5.5 5.5 0 1 0 11.0 0a5.5 5.5 0 1 0 -11.0 0zM1354.5 240a5.5 5.5 0 1 0 11.0 0a5.5 5.5 0 1 0 -11.0 0zM1354.5 280a5.5 5.5 0 1 0 11.0 0a5.5 5.5 0 1 0 -11.0 0zM1394.5 240a5.5 5.5 0 1 0 11.0 0a5.5 5.5 0 1 0 -11.0 0zM1434.5 280a5.5 5.5 0 1 0 11.0 0a5.5 5.5 0 1 0 -11.0 0zM34.5 320a5.5 5.5 0 1 0 11.0 0a5.5 5.5 0 1 0 -11.0 0zM74.5 320a5.5 5.5 0 1 0 11.0 0a5.5 5.5 0 1 0 -11.0 0zM1154.5 320a5.5 5.5 0 1 0 11.0 0a5.5 5.5 0 1 0 -11.0 0zM1194.5 320a5.5 5.5 0 1 0 11.0 0a5.5 5.5 0 1 0 -11.0 0zM1234.5 320a5.5 5.5 0 1 0 11.0 0a5.5 5.5 0 1 0 -11.0 0zM1394.5 320a5.5 5.5 0 1 0 11.0 0a5.5 5.5 0 1 0 -11.0 0zM1474.5 280a5.5 5.5 0 1 0 11.0 0a5.5 5.5 0 1 0 -11.0 0zM1514.5 280a5.5 5.5 0 1 0 11.0 0a5.5 5.5 0 1 0 -11.0 0zM1474.5 320a5.5 5.5 0 1 0 11.0 0a5.5 5.5 0 1 0 -11.0 0zM1514.5 320a5.5 5.5 0 1 0 11.0 0a5.5 5.5 0 1 0 -11.0 0zM1554.5 280a5.5 5.5 0 1 0 11.0 0a5.5 5.5 0 1 0 -11.0 0zM1554.5 320a5.5 5.5 0 1 0 11.0 0a5.5 5.5 0 1 0 -11.0 0zM1594.5 320a5.5 5.5 0 1 0 11.0 0a5.5 5.5 0 1 0 -11.0 0zM34.5 360a5.5 5.5 0 1 0 11.0 0a5.5 5.5 0 1 0 -11.0 0zM74.5 360a5.5 5.5 0 1 0 11.0 0a5.5 5.5 0 1 0 -11.0 0zM114.5 320a5.5 5.5 0 1 0 11.0 0a5.5 5.5 0 1 0 -11.0 0zM114.5 360a5.5 5.5 0 1 0 11.0 0a5.5 5.5 0 1 0 -11.0 0zM1194.5 360a5.5 5.5 0 1 0 11.0 0a5.5 5.5 0 1 0 -11.0 0zM1234.5 360a5.5 5.5 0 1 0 11.0 0a5.5 5.5 0 1 0 -11.0 0zM1274.5 360a5.5 5.5 0 1 0 11.0 0a5.5 5.5 0 1 0 -11.0 0zM1434.5 360a5.5 5.5 0 1 0 11.0 0a5.5 5.5 0 1 0 -11.0 0zM1474.5 360a5.5 5.5 0 1 0 11.0 0a5.5 5.5 0 1 0 -11.0 0zM1554.5 360a5.5 5.5 0 1 0 11.0 0a5.5 5.5 0 1 0 -11.0 0zM1594.5 360a5.5 5.5 0 1 0 11.0 0a5.5 5.5 0 1 0 -11.0 0zM74.5 400a5.5 5.5 0 1 0 11.0 0a5.5 5.5 0 1 0 -11.0 0zM154.5 360a5.5 5.5 0 1 0 11.0 0a5.5 5.5 0 1 0 -11.0 0zM154.5 400a5.5 5.5 0 1 0 11.0 0a5.5 5.5 0 1 0 -11.0 0zM914.5 360a5.5 5.5 0 1 0 11.0 0a5.5 5.5 0 1 0 -11.0 0zM954.5 360a5.5 5.5 0 1 0 11.0 0a5.5 5.5 0 1 0 -11.0 0zM914.5 400a5.5 5.5 0 1 0 11.0 0a5.5 5.5 0 1 0 -11.0 0zM994.5 360a5.5 5.5 0 1 0 11.0 0a5.5 5.5 0 1 0 -11.0 0zM1034.5 400a5.5 5.5 0 1 0 11.0 0a5.5 5.5 0 1 0 -11.0 0zM1274.5 400a5.5 5.5 0 1 0 11.0 0a5.5 5.5 0 1 0 -11.0 0zM1314.5 400a5.5 5.5 0 1 0 11.0 0a5.5 5.5 0 1 0 -11.0 0zM1474.5 400a5.5 5.5 0 1 0 11.0 0a5.5 5.5 0 1 0 -11.0 0zM1514.5 360a5.5 5.5 0 1 0 11.0 0a5.5 5.5 0 1 0 -11.0 0zM1514.5 400a5.5 5.5 0 1 0 11.0 0a5.5 5.5 0 1 0 -11.0 0zM1554.5 400a5.5 5.5 0 1 0 11.0 0a5.5 5.5 0 1 0 -11.0 0zM1594.5 400a5.5 5.5 0 1 0 11.0 0a5.5 5.5 0 1 0 -11.0 0zM74.5 440a5.5 5.5 0 1 0 11.0 0a5.5 5.5 0 1 0 -11.0 0zM114.5 440a5.5 5.5 0 1 0 11.0 0a5.5 5.5 0 1 0 -11.0 0zM954.5 440a5.5 5.5 0 1 0 11.0 0a5.5 5.5 0 1 0 -11.0 0zM994.5 440a5.5 5.5 0 1 0 11.0 0a5.5 5.5 0 1 0 -11.0 0zM1034.5 440a5.5 5.5 0 1 0 11.0 0a5.5 5.5 0 1 0 -11.0 0zM1594.5 440a5.5 5.5 0 1 0 11.0 0a5.5 5.5 0 1 0 -11.0 0zM1634.5 400a5.5 5.5 0 1 0 11.0 0a5.5 5.5 0 1 0 -11.0 0zM1634.5 440a5.5 5.5 0 1 0 11.0 0a5.5 5.5 0 1 0 -11.0 0zM1674.5 400a5.5 5.5 0 1 0 11.0 0a5.5 5.5 0 1 0 -11.0 0zM1674.5 440a5.5 5.5 0 1 0 11.0 0a5.5 5.5 0 1 0 -11.0 0zM1714.5 400a5.5 5.5 0 1 0 11.0 0a5.5 5.5 0 1 0 -11.0 0zM1714.5 440a5.5 5.5 0 1 0 11.0 0a5.5 5.5 0 1 0 -11.0 0zM34.5 440a5.5 5.5 0 1 0 11.0 0a5.5 5.5 0 1 0 -11.0 0zM34.5 480a5.5 5.5 0 1 0 11.0 0a5.5 5.5 0 1 0 -11.0 0zM74.5 480a5.5 5.5 0 1 0 11.0 0a5.5 5.5 0 1 0 -11.0 0zM114.5 480a5.5 5.5 0 1 0 11.0 0a5.5 5.5 0 1 0 -11.0 0zM394.5 440a5.5 5.5 0 1 0 11.0 0a5.5 5.5 0 1 0 -11.0 0zM434.5 440a5.5 5.5 0 1 0 11.0 0a5.5 5.5 0 1 0 -11.0 0zM394.5 480a5.5 5.5 0 1 0 11.0 0a5.5 5.5 0 1 0 -11.0 0zM434.5 480a5.5 5.5 0 1 0 11.0 0a5.5 5.5 0 1 0 -11.0 0zM474.5 480a5.5 5.5 0 1 0 11.0 0a5.5 5.5 0 1 0 -11.0 0zM1674.5 480a5.5 5.5 0 1 0 11.0 0a5.5 5.5 0 1 0 -11.0 0zM1714.5 480a5.5 5.5 0 1 0 11.0 0a5.5 5.5 0 1 0 -11.0 0zM1754.5 440a5.5 5.5 0 1 0 11.0 0a5.5 5.5 0 1 0 -11.0 0zM1754.5 480a5.5 5.5 0 1 0 11.0 0a5.5 5.5 0 1 0 -11.0 0zM34.5 520a5.5 5.5 0 1 0 11.0 0a5.5 5.5 0 1 0 -11.0 0zM74.5 520a5.5 5.5 0 1 0 11.0 0a5.5 5.5 0 1 0 -11.0 0zM434.5 520a5.5 5.5 0 1 0 11.0 0a5.5 5.5 0 1 0 -11.0 0zM474.5 520a5.5 5.5 0 1 0 11.0 0a5.5 5.5 0 1 0 -11.0 0zM514.5 480a5.5 5.5 0 1 0 11.0 0a5.5 5.5 0 1 0 -11.0 0zM514.5 520a5.5 5.5 0 1 0 11.0 0a5.5 5.5 0 1 0 -11.0 0zM1714.5 520a5.5 5.5 0 1 0 11.0 0a5.5 5.5 0 1 0 -11.0 0zM1754.5 520a5.5 5.5 0 1 0 11.0 0a5.5 5.5 0 1 0 -11.0 0zM1794.5 480a5.5 5.5 0 1 0 11.0 0a5.5 5.5 0 1 0 -11.0 0zM1794.5 520a5.5 5.5 0 1 0 11.0 0a5.5 5.5 0 1 0 -11.0 0zM34.5 560a5.5 5.5 0 1 0 11.0 0a5.5 5.5 0 1 0 -11.0 0zM74.5 560a5.5 5.5 0 1 0 11.0 0a5.5 5.5 0 1 0 -11.0 0zM474.5 560a5.5 5.5 0 1 0 11.0 0a5.5 5.5 0 1 0 -11.0 0zM514.5 560a5.5 5.5 0 1 0 11.0 0a5.5 5.5 0 1 0 -11.0 0zM554.5 560a5.5 5.5 0 1 0 11.0 0a5.5 5.5 0 1 0 -11.0 0zM1794.5 560a5.5 5.5 0 1 0 11.0 0a5.5 5.5 0 1 0 -11.0 0zM1834.5 520a5.5 5.5 0 1 0 11.0 0a5.5 5.5 0 1 0 -11.0 0zM1834.5 560a5.5 5.5 0 1 0 11.0 0a5.5 5.5 0 1 0 -11.0 0zM34.5 600a5.5 5.5 0 1 0 11.0 0a5.5 5.5 0 1 0 -11.0 0zM74.5 600a5.5 5.5 0 1 0 11.0 0a5.5 5.5 0 1 0 -11.0 0zM114.5 560a5.5 5.5 0 1 0 11.0 0a5.5 5.5 0 1 0 -11.0 0zM114.5 600a5.5 5.5 0 1 0 11.0 0a5.5 5.5 0 1 0 -11.0 0zM154.5 560a5.5 5.5 0 1 0 11.0 0a5.5 5.5 0 1 0 -11.0 0zM154.5 600a5.5 5.5 0 1 0 11.0 0a5.5 5.5 0 1 0 -11.0 0zM1794.5 600a5.5 5.5 0 1 0 11.0 0a5.5 5.5 0 1 0 -11.0 0zM1834.5 600a5.5 5.5 0 1 0 11.0 0a5.5 5.5 0 1 0 -11.0 0zM1874.5 560a5.5 5.5 0 1 0 11.0 0a5.5 5.5 0 1 0 -11.0 0zM1874.5 600a5.5 5.5 0 1 0 11.0 0a5.5 5.5 0 1 0 -11.0 0zM1914.5 560a5.5 5.5 0 1 0 11.0 0a5.5 5.5 0 1 0 -11.0 0zM1914.5 600a5.5 5.5 0 1 0 11.0 0a5.5 5.5 0 1 0 -11.0 0zM114.5 640a5.5 5.5 0 1 0 11.0 0a5.5 5.5 0 1 0 -11.0 0zM154.5 640a5.5 5.5 0 1 0 11.0 0a5.5 5.5 0 1 0 -11.0 0zM194.5 640a5.5 5.5 0 1 0 11.0 0a5.5 5.5 0 1 0 -11.0 0zM1394.5 600a5.5 5.5 0 1 0 11.0 0a5.5 5.5 0 1 0 -11.0 0zM1434.5 600a5.5 5.5 0 1 0 11.0 0a5.5 5.5 0 1 0 -11.0 0zM1434.5 640a5.5 5.5 0 1 0 11.0 0a5.5 5.5 0 1 0 -11.0 0zM1474.5 600a5.5 5.5 0 1 0 11.0 0a5.5 5.5 0 1 0 -11.0 0zM1474.5 640a5.5 5.5 0 1 0 11.0 0a5.5 5.5 0 1 0 -11.0 0zM1874.5 640a5.5 5.5 0 1 0 11.0 0a5.5 5.5 0 1 0 -11.0 0zM1914.5 640a5.5 5.5 0 1 0 11.0 0a5.5 5.5 0 1 0 -11.0 0zM154.5 680a5.5 5.5 0 1 0 11.0 0a5.5 5.5 0 1 0 -11.0 0zM194.5 680a5.5 5.5 0 1 0 11.0 0a5.5 5.5 0 1 0 -11.0 0zM234.5 640a5.5 5.5 0 1 0 11.0 0a5.5 5.5 0 1 0 -11.0 0zM234.5 680a5.5 5.5 0 1 0 11.0 0a5.5 5.5 0 1 0 -11.0 0zM1434.5 680a5.5 5.5 0 1 0 11.0 0a5.5 5.5 0 1 0 -11.0 0zM1474.5 680a5.5 5.5 0 1 0 11.0 0a5.5 5.5 0 1 0 -11.0 0zM1514.5 640a5.5 5.5 0 1 0 11.0 0a5.5 5.5 0 1 0 -11.0 0zM1514.5 680a5.5 5.5 0 1 0 11.0 0a5.5 5.5 0 1 0 -11.0 0zM1874.5 680a5.5 5.5 0 1 0 11.0 0a5.5 5.5 0 1 0 -11.0 0zM1914.5 680a5.5 5.5 0 1 0 11.0 0a5.5 5.5 0 1 0 -11.0 0zM194.5 720a5.5 5.5 0 1 0 11.0 0a5.5 5.5 0 1 0 -11.0 0zM234.5 720a5.5 5.5 0 1 0 11.0 0a5.5 5.5 0 1 0 -11.0 0zM274.5 680a5.5 5.5 0 1 0 11.0 0a5.5 5.5 0 1 0 -11.0 0zM274.5 720a5.5 5.5 0 1 0 11.0 0a5.5 5.5 0 1 0 -11.0 0zM1514.5 720a5.5 5.5 0 1 0 11.0 0a5.5 5.5 0 1 0 -11.0 0zM1554.5 680a5.5 5.5 0 1 0 11.0 0a5.5 5.5 0 1 0 -11.0 0zM1554.5 720a5.5 5.5 0 1 0 11.0 0a5.5 5.5 0 1 0 -11.0 0zM1834.5 680a5.5 5.5 0 1 0 11.0 0a5.5 5.5 0 1 0 -11.0 0zM1834.5 720a5.5 5.5 0 1 0 11.0 0a5.5 5.5 0 1 0 -11.0 0zM1874.5 720a5.5 5.5 0 1 0 11.0 0a5.5 5.5 0 1 0 -11.0 0zM1914.5 720a5.5 5.5 0 1 0 11.0 0a5.5 5.5 0 1 0 -11.0 0zM234.5 760a5.5 5.5 0 1 0 11.0 0a5.5 5.5 0 1 0 -11.0 0zM274.5 760a5.5 5.5 0 1 0 11.0 0a5.5 5.5 0 1 0 -11.0 0zM314.5 720a5.5 5.5 0 1 0 11.0 0a5.5 5.5 0 1 0 -11.0 0zM314.5 760a5.5 5.5 0 1 0 11.0 0a5.5 5.5 0 1 0 -11.0 0zM354.5 720a5.5 5.5 0 1 0 11.0 0a5.5 5.5 0 1 0 -11.0 0zM354.5 760a5.5 5.5 0 1 0 11.0 0a5.5 5.5 0 1 0 -11.0 0zM394.5 760a5.5 5.5 0 1 0 11.0 0a5.5 5.5 0 1 0 -11.0 0zM914.5 720a5.5 5.5 0 1 0 11.0 0a5.5 5.5 0 1 0 -11.0 0zM954.5 720a5.5 5.5 0 1 0 11.0 0a5.5 5.5 0 1 0 -11.0 0zM914.5 760a5.5 5.5 0 1 0 11.0 0a5.5 5.5 0 1 0 -11.0 0zM994.5 720a5.5 5.5 0 1 0 11.0 0a5.5 5.5 0 1 0 -11.0 0zM1034.5 760a5.5 5.5 0 1 0 11.0 0a5.5 5.5 0 1 0 -11.0 0zM1794.5 760a5.5 5.5 0 1 0 11.0 0a5.5 5.5 0 1 0 -11.0 0zM1874.5 760a5.5 5.5 0 1 0 11.0 0a5.5 5.5 0 1 0 -11.0 0zM354.5 800a5.5 5.5 0 1 0 11.0 0a5.5 5.5 0 1 0 -11.0 0zM434.5 760a5.5 5.5 0 1 0 11.0 0a5.5 5.5 0 1 0 -11.0 0zM394.5 800a5.5 5.5 0 1 0 11.0 0a5.5 5.5 0 1 0 -11.0 0zM434.5 800a5.5 5.5 0 1 0 11.0 0a5.5 5.5 0 1 0 -11.0 0zM474.5 760a5.5 5.5 0 1 0 11.0 0a5.5 5.5 0 1 0 -11.0 0zM474.5 800a5.5 5.5 0 1 0 11.0 0a5.5 5.5 0 1 0 -11.0 0zM514.5 800a5.5 5.5 0 1 0 11.0 0a5.5 5.5 0 1 0 -11.0 0zM634.5 760a5.5 5.5 0 1 0 11.0 0a5.5 5.5 0 1 0 -11.0 0zM674.5 760a5.5 5.5 0 1 0 11.0 0a5.5 5.5 0 1 0 -11.0 0zM674.5 800a5.5 5.5 0 1 0 11.0 0a5.5 5.5 0 1 0 -11.0 0zM714.5 800a5.5 5.5 0 1 0 11.0 0a5.5 5.5 0 1 0 -11.0 0zM954.5 800a5.5 5.5 0 1 0 11.0 0a5.5 5.5 0 1 0 -11.0 0zM994.5 800a5.5 5.5 0 1 0 11.0 0a5.5 5.5 0 1 0 -11.0 0zM1034.5 800a5.5 5.5 0 1 0 11.0 0a5.5 5.5 0 1 0 -11.0 0zM1794.5 800a5.5 5.5 0 1 0 11.0 0a5.5 5.5 0 1 0 -11.0 0zM1834.5 800a5.5 5.5 0 1 0 11.0 0a5.5 5.5 0 1 0 -11.0 0zM1874.5 800a5.5 5.5 0 1 0 11.0 0a5.5 5.5 0 1 0 -11.0 0zM354.5 840a5.5 5.5 0 1 0 11.0 0a5.5 5.5 0 1 0 -11.0 0zM394.5 840a5.5 5.5 0 1 0 11.0 0a5.5 5.5 0 1 0 -11.0 0zM474.5 840a5.5 5.5 0 1 0 11.0 0a5.5 5.5 0 1 0 -11.0 0zM554.5 840a5.5 5.5 0 1 0 11.0 0a5.5 5.5 0 1 0 -11.0 0zM714.5 840a5.5 5.5 0 1 0 11.0 0a5.5 5.5 0 1 0 -11.0 0zM754.5 800a5.5 5.5 0 1 0 11.0 0a5.5 5.5 0 1 0 -11.0 0zM754.5 840a5.5 5.5 0 1 0 11.0 0a5.5 5.5 0 1 0 -11.0 0zM1834.5 840a5.5 5.5 0 1 0 11.0 0a5.5 5.5 0 1 0 -11.0 0zM1874.5 840a5.5 5.5 0 1 0 11.0 0a5.5 5.5 0 1 0 -11.0 0zM1914.5 800a5.5 5.5 0 1 0 11.0 0a5.5 5.5 0 1 0 -11.0 0zM1914.5 840a5.5 5.5 0 1 0 11.0 0a5.5 5.5 0 1 0 -11.0 0zM394.5 880a5.5 5.5 0 1 0 11.0 0a5.5 5.5 0 1 0 -11.0 0zM434.5 840a5.5 5.5 0 1 0 11.0 0a5.5 5.5 0 1 0 -11.0 0zM434.5 880a5.5 5.5 0 1 0 11.0 0a5.5 5.5 0 1 0 -11.0 0zM474.5 880a5.5 5.5 0 1 0 11.0 0a5.5 5.5 0 1 0 -11.0 0zM514.5 880a5.5 5.5 0 1 0 11.0 0a5.5 5.5 0 1 0 -11.0 0zM594.5 880a5.5 5.5 0 1 0 11.0 0a5.5 5.5 0 1 0 -11.0 0zM714.5 880a5.5 5.5 0 1 0 11.0 0a5.5 5.5 0 1 0 -11.0 0zM794.5 840a5.5 5.5 0 1 0 11.0 0a5.5 5.5 0 1 0 -11.0 0zM754.5 880a5.5 5.5 0 1 0 11.0 0a5.5 5.5 0 1 0 -11.0 0zM794.5 880a5.5 5.5 0 1 0 11.0 0a5.5 5.5 0 1 0 -11.0 0zM834.5 880a5.5 5.5 0 1 0 11.0 0a5.5 5.5 0 1 0 -11.0 0zM1874.5 880a5.5 5.5 0 1 0 11.0 0a5.5 5.5 0 1 0 -11.0 0zM1914.5 880a5.5 5.5 0 1 0 11.0 0a5.5 5.5 0 1 0 -11.0 0zM554.5 920a5.5 5.5 0 1 0 11.0 0a5.5 5.5 0 1 0 -11.0 0zM594.5 920a5.5 5.5 0 1 0 11.0 0a5.5 5.5 0 1 0 -11.0 0zM634.5 880a5.5 5.5 0 1 0 11.0 0a5.5 5.5 0 1 0 -11.0 0zM634.5 920a5.5 5.5 0 1 0 11.0 0a5.5 5.5 0 1 0 -11.0 0zM674.5 880a5.5 5.5 0 1 0 11.0 0a5.5 5.5 0 1 0 -11.0 0zM674.5 920a5.5 5.5 0 1 0 11.0 0a5.5 5.5 0 1 0 -11.0 0zM714.5 920a5.5 5.5 0 1 0 11.0 0a5.5 5.5 0 1 0 -11.0 0zM754.5 920a5.5 5.5 0 1 0 11.0 0a5.5 5.5 0 1 0 -11.0 0zM794.5 920a5.5 5.5 0 1 0 11.0 0a5.5 5.5 0 1 0 -11.0 0zM834.5 920a5.5 5.5 0 1 0 11.0 0a5.5 5.5 0 1 0 -11.0 0zM874.5 920a5.5 5.5 0 1 0 11.0 0a5.5 5.5 0 1 0 -11.0 0zM1874.5 920a5.5 5.5 0 1 0 11.0 0a5.5 5.5 0 1 0 -11.0 0zM1914.5 920a5.5 5.5 0 1 0 11.0 0a5.5 5.5 0 1 0 -11.0 0zM834.5 960a5.5 5.5 0 1 0 11.0 0a5.5 5.5 0 1 0 -11.0 0zM874.5 960a5.5 5.5 0 1 0 11.0 0a5.5 5.5 0 1 0 -11.0 0zM914.5 920a5.5 5.5 0 1 0 11.0 0a5.5 5.5 0 1 0 -11.0 0zM914.5 960a5.5 5.5 0 1 0 11.0 0a5.5 5.5 0 1 0 -11.0 0zM954.5 920a5.5 5.5 0 1 0 11.0 0a5.5 5.5 0 1 0 -11.0 0zM954.5 960a5.5 5.5 0 1 0 11.0 0a5.5 5.5 0 1 0 -11.0 0zM994.5 920a5.5 5.5 0 1 0 11.0 0a5.5 5.5 0 1 0 -11.0 0zM994.5 960a5.5 5.5 0 1 0 11.0 0a5.5 5.5 0 1 0 -11.0 0zM1034.5 920a5.5 5.5 0 1 0 11.0 0a5.5 5.5 0 1 0 -11.0 0zM1034.5 960a5.5 5.5 0 1 0 11.0 0a5.5 5.5 0 1 0 -11.0 0zM1074.5 920a5.5 5.5 0 1 0 11.0 0a5.5 5.5 0 1 0 -11.0 0zM1074.5 960a5.5 5.5 0 1 0 11.0 0a5.5 5.5 0 1 0 -11.0 0zM1114.5 960a5.5 5.5 0 1 0 11.0 0a5.5 5.5 0 1 0 -11.0 0zM1274.5 920a5.5 5.5 0 1 0 11.0 0a5.5 5.5 0 1 0 -11.0 0zM1314.5 920a5.5 5.5 0 1 0 11.0 0a5.5 5.5 0 1 0 -11.0 0zM1314.5 960a5.5 5.5 0 1 0 11.0 0a5.5 5.5 0 1 0 -11.0 0zM1354.5 920a5.5 5.5 0 1 0 11.0 0a5.5 5.5 0 1 0 -11.0 0zM1354.5 960a5.5 5.5 0 1 0 11.0 0a5.5 5.5 0 1 0 -11.0 0zM1394.5 920a5.5 5.5 0 1 0 11.0 0a5.5 5.5 0 1 0 -11.0 0zM1394.5 960a5.5 5.5 0 1 0 11.0 0a5.5 5.5 0 1 0 -11.0 0zM1874.5 960a5.5 5.5 0 1 0 11.0 0a5.5 5.5 0 1 0 -11.0 0zM1914.5 960a5.5 5.5 0 1 0 11.0 0a5.5 5.5 0 1 0 -11.0 0zM1074.5 1000a5.5 5.5 0 1 0 11.0 0a5.5 5.5 0 1 0 -11.0 0zM1114.5 1000a5.5 5.5 0 1 0 11.0 0a5.5 5.5 0 1 0 -11.0 0zM1874.5 1000a5.5 5.5 0 1 0 11.0 0a5.5 5.5 0 1 0 -11.0 0zM1914.5 1000a5.5 5.5 0 1 0 11.0 0a5.5 5.5 0 1 0 -11.0 0zM1074.5 1040a5.5 5.5 0 1 0 11.0 0a5.5 5.5 0 1 0 -11.0 0zM1114.5 1040a5.5 5.5 0 1 0 11.0 0a5.5 5.5 0 1 0 -11.0 0zM1154.5 1000a5.5 5.5 0 1 0 11.0 0a5.5 5.5 0 1 0 -11.0 0zM1154.5 1040a5.5 5.5 0 1 0 11.0 0a5.5 5.5 0 1 0 -11.0 0zM1194.5 1040a5.5 5.5 0 1 0 11.0 0a5.5 5.5 0 1 0 -11.0 0zM1554.5 1000a5.5 5.5 0 1 0 11.0 0a5.5 5.5 0 1 0 -11.0 0zM1514.5 1040a5.5 5.5 0 1 0 11.0 0a5.5 5.5 0 1 0 -11.0 0zM1594.5 1000a5.5 5.5 0 1 0 11.0 0a5.5 5.5 0 1 0 -11.0 0zM1594.5 1040a5.5 5.5 0 1 0 11.0 0a5.5 5.5 0 1 0 -11.0 0zM1874.5 1040a5.5 5.5 0 1 0 11.0 0a5.5 5.5 0 1 0 -11.0 0zM1914.5 1040a5.5 5.5 0 1 0 11.0 0a5.5 5.5 0 1 0 -11.0 0zM1154.5 1080a5.5 5.5 0 1 0 11.0 0a5.5 5.5 0 1 0 -11.0 0zM1194.5 1080a5.5 5.5 0 1 0 11.0 0a5.5 5.5 0 1 0 -11.0 0zM1234.5 1080a5.5 5.5 0 1 0 11.0 0a5.5 5.5 0 1 0 -11.0 0zM1474.5 1080a5.5 5.5 0 1 0 11.0 0a5.5 5.5 0 1 0 -11.0 0zM1514.5 1080a5.5 5.5 0 1 0 11.0 0a5.5 5.5 0 1 0 -11.0 0zM1554.5 1080a5.5 5.5 0 1 0 11.0 0a5.5 5.5 0 1 0 -11.0 0zM1594.5 1080a5.5 5.5 0 1 0 11.0 0a5.5 5.5 0 1 0 -11.0 0zM1634.5 1040a5.5 5.5 0 1 0 11.0 0a5.5 5.5 0 1 0 -11.0 0zM1634.5 1080a5.5 5.5 0 1 0 11.0 0a5.5 5.5 0 1 0 -11.0 0zM1874.5 1080a5.5 5.5 0 1 0 11.0 0a5.5 5.5 0 1 0 -11.0 0zM1914.5 1080a5.5 5.5 0 1 0 11.0 0a5.5 5.5 0 1 0 -11.0 0zM1194.5 1120a5.5 5.5 0 1 0 11.0 0a5.5 5.5 0 1 0 -11.0 0zM1234.5 1120a5.5 5.5 0 1 0 11.0 0a5.5 5.5 0 1 0 -11.0 0zM1274.5 1080a5.5 5.5 0 1 0 11.0 0a5.5 5.5 0 1 0 -11.0 0zM1274.5 1120a5.5 5.5 0 1 0 11.0 0a5.5 5.5 0 1 0 -11.0 0zM1314.5 1080a5.5 5.5 0 1 0 11.0 0a5.5 5.5 0 1 0 -11.0 0zM1314.5 1120a5.5 5.5 0 1 0 11.0 0a5.5 5.5 0 1 0 -11.0 0zM1354.5 1080a5.5 5.5 0 1 0 11.0 0a5.5 5.5 0 1 0 -11.0 0zM1354.5 1120a5.5 5.5 0 1 0 11.0 0a5.5 5.5 0 1 0 -11.0 0zM1394.5 1080a5.5 5.5 0 1 0 11.0 0a5.5 5.5 0 1 0 -11.0 0zM1394.5 1120a5.5 5.5 0 1 0 11.0 0a5.5 5.5 0 1 0 -11.0 0zM1434.5 1080a5.5 5.5 0 1 0 11.0 0a5.5 5.5 0 1 0 -11.0 0zM1434.5 1120a5.5 5.5 0 1 0 11.0 0a5.5 5.5 0 1 0 -11.0 0zM1474.5 1120a5.5 5.5 0 1 0 11.0 0a5.5 5.5 0 1 0 -11.0 0zM1514.5 1120a5.5 5.5 0 1 0 11.0 0a5.5 5.5 0 1 0 -11.0 0zM1594.5 1120a5.5 5.5 0 1 0 11.0 0a5.5 5.5 0 1 0 -11.0 0zM1634.5 1120a5.5 5.5 0 1 0 11.0 0a5.5 5.5 0 1 0 -11.0 0zM1674.5 1080a5.5 5.5 0 1 0 11.0 0a5.5 5.5 0 1 0 -11.0 0zM1674.5 1120a5.5 5.5 0 1 0 11.0 0a5.5 5.5 0 1 0 -11.0 0zM1714.5 1080a5.5 5.5 0 1 0 11.0 0a5.5 5.5 0 1 0 -11.0 0zM1714.5 1120a5.5 5.5 0 1 0 11.0 0a5.5 5.5 0 1 0 -11.0 0zM1754.5 1080a5.5 5.5 0 1 0 11.0 0a5.5 5.5 0 1 0 -11.0 0zM1754.5 1120a5.5 5.5 0 1 0 11.0 0a5.5 5.5 0 1 0 -11.0 0zM1794.5 1080a5.5 5.5 0 1 0 11.0 0a5.5 5.5 0 1 0 -11.0 0zM1794.5 1120a5.5 5.5 0 1 0 11.0 0a5.5 5.5 0 1 0 -11.0 0zM1834.5 1080a5.5 5.5 0 1 0 11.0 0a5.5 5.5 0 1 0 -11.0 0zM1834.5 1120a5.5 5.5 0 1 0 11.0 0a5.5 5.5 0 1 0 -11.0 0zM1874.5 1120a5.5 5.5 0 1 0 11.0 0a5.5 5.5 0 1 0 -11.0 0zM1914.5 1120a5.5 5.5 0 1 0 11.0 0a5.5 5.5 0 1 0 -11.0 0z" fill="#535257"/>
<path d="M480 80L440 120M720 80L760 120M440 120L400 160M760 120L800 160M640 200L680 240M840 200L880 240M1080 240L1120 280M1400 240L1440 280M1120 280L1160 320M1360 280L1400 320M1560 280L1600 320M1240 320L1280 360M1400 320L1440 360M1000 360L1040 400M1240 360L1280 400M1280 360L1320 400M1440 360L1480 400M160 400L120 440M920 400L960 440M1560 400L1600 440M440 440L480 480M520 520L560 560M1760 520L1800 560M160 600L200 640M1400 600L1440 640M1480 680L1520 720M360 720L400 760M1000 720L1040 760M1840 720L1800 760M480 760L520 800M640 760L680 800M680 760L720 800M920 760L960 800M520 800L560 840M680 800L720 840M360 840L400 880M560 840L600 880M800 840L840 880M520 880L560 920M840 880L880 920M1080 920L1120 960M1280 920L1320 960M1160 1000L1200 1040M1560 1000L1520 1040M1200 1040L1240 1080M1520 1040L1480 1080" stroke="#28272c" stroke-width="9"/>
<path d="M80 80L120 80M120 80L160 80M160 80L200 80M200 80L240 80M240 80L280 80M280 80L320 80M360 40L360 80M480 80L520 80M520 80L560 80M560 80L600 80M600 80L640 80M640 80L680 80M680 80L720 80M760 40L760 80M80 80L80 120M320 120L360 120M800 80L800 120M80 120L80 160M360 160L400 160M800 160L840 160M880 120L880 160M80 160L80 200M880 160L880 200M80 200L80 240M560 240L600 240M600 240L640 240M640 240L680 240M880 240L920 240M920 240L960 240M960 240L1000 240M1000 240L1040 240M1040 240L1080 240M1120 200L1120 240M80 240L80 280M1160 240L1160 280M1240 280L1280 280M1280 280L1320 280M1320 280L1360 280M80 280L80 320M1160 320L1200 320M1240 280L1240 320M1480 320L1520 320M1520 320L1560 320M40 360L80 360M120 320L120 360M1200 360L1240 360M1480 320L1480 360M1600 320L1600 360M160 360L160 400M1280 400L1320 400M1480 400L1520 400M1520 400L1560 400M1600 360L1600 400M960 440L1000 440M1000 440L1040 440M1040 400L1040 440M1600 440L1640 440M1640 440L1680 440M1720 400L1720 440M80 480L120 480M120 440L120 480M400 480L440 480M1680 480L1720 480M1760 440L1760 480M80 480L80 520M440 520L480 520M520 480L520 520M1720 520L1760 520M1800 480L1800 520M80 520L80 560M480 560L520 560M520 560L560 560M1840 520L1840 560M40 600L80 600M80 600L120 600M160 560L160 600M1800 600L1840 600M1840 600L1880 600M1920 560L1920 600M120 640L160 640M1480 600L1480 640M1920 600L1920 640M160 680L200 680M240 640L240 680M1440 680L1480 680M1520 640L1520 680M1920 640L1920 680M200 720L240 720M280 680L280 720M1520 720L1560 720M1560 680L1560 720M1880 720L1920 720M1920 680L1920 720M240 760L280 760M280 760L320 760M320 760L360 760M1880 720L1880 760M400 800L440 800M440 800L480 800M960 800L1000 800M1000 800L1040 800M1040 760L1040 800M1800 800L1840 800M1880 760L1880 800M400 800L400 840M760 800L760 840M1840 840L1880 840M1920 800L1920 840M400 880L440 880M440 880L480 880M480 880L520 880M760 880L800 880M1920 840L1920 880M560 920L600 920M600 920L640 920M640 920L680 920M680 920L720 920M720 920L760 920M760 880L760 920M800 920L840 920M1920 880L1920 920M840 960L880 960M880 960L920 960M920 960L960 960M960 960L1000 960M1000 960L1040 960M1040 960L1080 960M1320 960L1360 960M1360 960L1400 960M1400 920L1400 960M1920 920L1920 960M1120 960L1120 1000M1920 960L1920 1000M1080 1040L1120 1040M1120 1040L1160 1040M1600 1000L1600 1040M1920 1000L1920 1040M1160 1080L1200 1080M1520 1080L1560 1080M1560 1080L1600 1080M1640 1040L1640 1080M1920 1040L1920 1080M1200 1120L1240 1120M1240 1120L1280 1120M1280 1120L1320 1120M1320 1120L1360 1120M1360 1120L1400 1120M1400 1120L1440 1120M1440 1120L1480 1120M1480 1120L1520 1120M1520 1080L1520 1120M1600 1120L1640 1120M1640 1120L1680 1120M1680 1120L1720 1120M1720 1120L1760 1120M1760 1120L1800 1120M1800 1120L1840 1120M1840 1120L1880 1120M1880 1120L1920 1120M1920 1080L1920 1120" stroke="#222126" stroke-width="9"/><path d="M75.5 80a4.5 4.5 0 1 0 9.0 0a4.5 4.5 0 1 0 -9.0 0zM115.5 80a4.5 4.5 0 1 0 9.0 0a4.5 4.5 0 1 0 -9.0 0zM155.5 80a4.5 4.5 0 1 0 9.0 0a4.5 4.5 0 1 0 -9.0 0zM195.5 80a4.5 4.5 0 1 0 9.0 0a4.5 4.5 0 1 0 -9.0 0zM235.5 80a4.5 4.5 0 1 0 9.0 0a4.5 4.5 0 1 0 -9.0 0zM275.5 80a4.5 4.5 0 1 0 9.0 0a4.5 4.5 0 1 0 -9.0 0zM315.5 80a4.5 4.5 0 1 0 9.0 0a4.5 4.5 0 1 0 -9.0 0zM355.5 40a4.5 4.5 0 1 0 9.0 0a4.5 4.5 0 1 0 -9.0 0zM355.5 80a4.5 4.5 0 1 0 9.0 0a4.5 4.5 0 1 0 -9.0 0zM475.5 80a4.5 4.5 0 1 0 9.0 0a4.5 4.5 0 1 0 -9.0 0zM515.5 80a4.5 4.5 0 1 0 9.0 0a4.5 4.5 0 1 0 -9.0 0zM555.5 80a4.5 4.5 0 1 0 9.0 0a4.5 4.5 0 1 0 -9.0 0zM595.5 80a4.5 4.5 0 1 0 9.0 0a4.5 4.5 0 1 0 -9.0 0zM635.5 80a4.5 4.5 0 1 0 9.0 0a4.5 4.5 0 1 0 -9.0 0zM675.5 80a4.5 4.5 0 1 0 9.0 0a4.5 4.5 0 1 0 -9.0 0zM715.5 80a4.5 4.5 0 1 0 9.0 0a4.5 4.5 0 1 0 -9.0 0zM755.5 40a4.5 4.5 0 1 0 9.0 0a4.5 4.5 0 1 0 -9.0 0zM755.5 80a4.5 4.5 0 1 0 9.0 0a4.5 4.5 0 1 0 -9.0 0zM75.5 120a4.5 4.5 0 1 0 9.0 0a4.5 4.5 0 1 0 -9.0 0zM315.5 120a4.5 4.5 0 1 0 9.0 0a4.5 4.5 0 1 0 -9.0 0zM355.5 120a4.5 4.5 0 1 0 9.0 0a4.5 4.5 0 1 0 -9.0 0zM435.5 120a4.5 4.5 0 1 0 9.0 0a4.5 4.5 0 1 0 -9.0 0zM755.5 120a4.5 4.5 0 1 0 9.0 0a4.5 4.5 0 1 0 -9.0 0zM795.5 80a4.5 4.5 0 1 0 9.0 0a4.5 4.5 0 1 0 -9.0 0zM795.5 120a4.5 4.5 0 1 0 9.0 0a4.5 4.5 0 1 0 -9.0 0zM75.5 160a4.5 4.5 0 1 0 9.0 0a4.5 4.5 0 1 0 -9.0 0zM355.5 160a4.5 4.5 0 1 0 9.0 0a4.5 4.5 0 1 0 -9.0 0zM395.5 160a4.5 4.5 0 1 0 9.0 0a4.5 4.5 0 1 0 -9.0 0zM795.5 160a4.5 4.5 0 1 0 9.0 0a4.5 4.5 0 1 0 -9.0 0zM835.5 160a4.5 4.5 0 1 0 9.0 0a4.5 4.5 0 1 0 -9.0 0zM875.5 120a4.5 4.5 0 1 0 9.0 0a4.5 4.5 0 1 0 -9.0 0zM875.5 160a4.5 4.5 0 1 0 9.0 0a4.5 4.5 0 1 0 -9.0 0zM75.5 200a4.5 4.5 0 1 0 9.0 0a4.5 4.5 0 1 0 -9.0 0zM835.5 200a4.5 4.5 0 1 0 9.0 0a4.5 4.5 0 1 0 -9.0 0zM875.5 200a4.5 4.5 0 1 0 9.0 0a4.5 4.5 0 1 0 -9.0 0zM75.5 240a4.5 4.5 0 1 0 9.0 0a4.5 4.5 0 1 0 -9.0 0zM555.5 240a4.5 4.5 0 1 0 9.0 0a4.5 4.5 0 1 0 -9.0 0zM595.5 240a4.5 4.5 0 1 0 9.0 0a4.5 4.5 0 1 0 -9.0 0zM635.5 200a4.5 4.5 0 1 0 9.0 0a4.5 4.5 0 1 0 -9.0 0zM635.5 240a4.5 4.5 0 1 0 9.0 0a4.5 4.5 0 1 0 -9.0 0zM675.5 240a4.5 4.5 0 1 0 9.0 0a4.5 4.5 0 1 0 -9.0 0zM875.5 240a4.5 4.5 0 1 0 9.0 0a4.5 4.5 0 1 0 -9.0 0zM915.5 240a4.5 4.5 0 1 0 9.0 0a4.5 4.5 0 1 0 -9.0 0zM955.5 240a4.5 4.5 0 1 0 9.0 0a4.5 4.5 0 1 0 -9.0 0zM995.5 240a4.5 4.5 0 1 0 9.0 0a4.5 4.5 0 1 0 -9.0 0zM1035.5 240a4.5 4.5 0 1 0 9.0 0a4.5 4.5 0 1 0 -9.0 0zM1075.5 240a4.5 4.5 0 1 0 9.0 0a4.5 4.5 0 1 0 -9.0 0zM1115.5 200a4.5 4.5 0 1 0 9.0 0a4.5 4.5 0 1 0 -9.0 0zM1115.5 240a4.5 4.5 0 1 0 9.0 0a4.5 4.5 0 1 0 -9.0 0zM75.5 280a4.5 4.5 0 1 0 9.0 0a4.5 4.5 0 1 0 -9.0 0zM1115.5 280a4.5 4.5 0 1 0 9.0 0a4.5 4.5 0 1 0 -9.0 0zM1155.5 240a4.5 4.5 0 1 0 9.0 0a4.5 4.5 0 1 0 -9.0 0zM1155.5 280a4.5 4.5 0 1 0 9.0 0a4.5 4.5 0 1 0 -9.0 0zM1235.5 280a4.5 4.5 0 1 0 9.0 0a4.5 4.5 0 1 0 -9.0 0zM1275.5 280a4.5 4.5 0 1 0 9.0 0a4.5 4.5 0 1 0 -9.0 0zM1315.5 280a4.5 4.5 0 1 0 9.0 0a4.5 4.5 0 1 0 -9.0 0zM1355.5 280a4.5 4.5 0 1 0 9.0 0a4.5 4.5 0 1 0 -9.0 0zM1395.5 240a4.5 4.5 0 1 0 9.0 0a4.5 4.5 0 1 0 -9.0 0zM1435.5 280a4.5 4.5 0 1 0 9.0 0a4.5 4.5 0 1 0 -9.0 0zM75.5 320a4.5 4.5 0 1 0 9.0 0a4.5 4.5 0 1 0 -9.0 0zM1155.5 320a4.5 4.5 0 1 0 9.0 0a4.5 4.5 0 1 0 -9.0 0zM1195.5 320a4.5 4.5 0 1 0 9.0 0a4.5 4.5 0 1 0 -9.0 0zM1235.5 320a4.5 4.5 0 1 0 9.0 0a4.5 4.5 0 1 0 -9.0 0zM1395.5 320a4.5 4.5 0 1 0 9.0 0a4.5 4.5 0 1 0 -9.0 0zM1475.5 320a4.5 4.5 0 1 0 9.0 0a4.5 4.5 0 1 0 -9.0 0zM1515.5 320a4.5 4.5 0 1 0 9.0 0a4.5 4.5 0 1 0 -9.0 0zM1555.5 280a4.5 4.5 0 1 0 9.0 0a4.5 4.5 0 1 0 -9.0 0zM1555.5 320a4.5 4.5 0 1 0 9.0 0a4.5 4.5 0 1 0 -9.0 0zM1595.5 320a4.5 4.5 0 1 0 9.0 0a4.5 4.5 0 1 0 -9.0 0zM35.5 360a4.5 4.5 0 1 0 9.0 0a4.5 4.5 0 1 0 -9.0 0zM75.5 360a4.5 4.5 0 1 0 9.0 0a4.5 4.5 0 1 0 -9.0 0zM115.5 320a4.5 4.5 0 1 0 9.0 0a4.5 4.5 0 1 0 -9.0 0zM115.5 360a4.5 4.5 0 1 0 9.0 0a4.5 4.5 0 1 0 -9.0 0zM1195.5 360a4.5 4.5 0 1 0 9.0 0a4.5 4.5 0 1 0 -9.0 0zM1235.5 360a4.5 4.5 0 1 0 9.0 0a4.5 4.5 0 1 0 -9.0 0zM1275.5 360a4.5 4.5 0 1 0 9.0 0a4.5 4.5 0 1 0 -9.0 0zM1435.5 360a4.5 4.5 0 1 0 9.0 0a4.5 4.5 0 1 0 -9.0 0zM1475.5 360a4.5 4.5 0 1 0 9.0 0a4.5 4.5 0 1 0 -9.0 0zM1595.5 360a4.5 4.5 0 1 0 9.0 0a4.5 4.5 0 1 0 -9.0 0zM155.5 360a4.5 4.5 0 1 0 9.0 0a4.5 4.5 0 1 0 -9.0 0zM155.5 400a4.5 4.5 0 1 0 9.0 0a4.5 4.5 0 1 0 -9.0 0zM915.5 400a4.5 4.5 0 1 0 9.0 0a4.5 4.5 0 1 0 -9.0 0zM995.5 360a4.5 4.5 0 1 0 9.0 0a4.5 4.5 0 1 0 -9.0 0zM1035.5 400a4.5 4.5 0 1 0 9.0 0a4.5 4.5 0 1 0 -9.0 0zM1275.5 400a4.5 4.5 0 1 0 9.0 0a4.5 4.5 0 1 0 -9.0 0zM1315.5 400a4.5 4.5 0 1 0 9.0 0a4.5 4.5 0 1 0 -9.0 0zM1475.5 400a4.5 4.5 0 1 0 9.0 0a4.5 4.5 0 1 0 -9.0 0zM1515.5 400a4.5 4.5 0 1 0 9.0 0a4.5 4.5 0 1 0 -9.0 0zM1555.5 400a4.5 4.5 0 1 0 9.0 0a4.5 4.5 0 1 0 -9.0 0zM1595.5 400a4.5 4.5 0 1 0 9.0 0a4.5 4.5 0 1 0 -9.0 0zM115.5 440a4.5 4.5 0 1 0 9.0 0a4.5 4.5 0 1 0 -9.0 0zM955.5 440a4.5 4.5 0 1 0 9.0 0a4.5 4.5 0 1 0 -9.0 0zM995.5 440a4.5 4.5 0 1 0 9.0 0a4.5 4.5 0 1 0 -9.0 0zM1035.5 440a4.5 4.5 0 1 0 9.0 0a4.5 4.5 0 1 0 -9.0 0zM1595.5 440a4.5 4.5 0 1 0 9.0 0a4.5 4.5 0 1 0 -9.0 0zM1635.5 440a4.5 4.5 0 1 0 9.0 0a4.5 4.5 0 1 0 -9.0 0zM1675.5 440a4.5 4.5 0 1 0 9.0 0a4.5 4.5 0 1 0 -9.0 0zM1715.5 400a4.5 4.5 0 1 0 9.0 0a4.5 4.5 0 1 0 -9.0 0zM1715.5 440a4.5 4.5 0 1 0 9.0 0a4.5 4.5 0 1 0 -9.0 0zM75.5 480a4.5 4.5 0 1 0 9.0 0a4.5 4.5 0 1 0 -9.0 0zM115.5 480a4.5 4.5 0 1 0 9.0 0a4.5 4.5 0 1 0 -9.0 0zM435.5 440a4.5 4.5 0 1 0 9.0 0a4.5 4.5 0 1 0 -9.0 0zM395.5 480a4.5 4.5 0 1 0 9.0 0a4.5 4.5 0 1 0 -9.0 0zM435.5 480a4.5 4.5 0 1 0 9.0 0a4.5 4.5 0 1 0 -9.0 0zM475.5 480a4.5 4.5 0 1 0 9.0 0a4.5 4.5 0 1 0 -9.0 0zM1675.5 480a4.5 4.5 0 1 0 9.0 0a4.5 4.5 0 1 0 -9.0 0zM1715.5 480a4.5 4.5 0 1 0 9.0 0a4.5 4.5 0 1 0 -9.0 0zM1755.5 440a4.5 4.5 0 1 0 9.0 0a4.5 4.5 0 1 0 -9.0 0zM1755.5 480a4.5 4.5 0 1 0 9.0 0a4.5 4.5 0 1 0 -9.0 0zM75.5 520a4.5 4.5 0 1 0 9.0 0a4.5 4.5 0 1 0 -9.0 0zM435.5 520a4.5 4.5 0 1 0 9.0 0a4.5 4.5 0 1 0 -9.0 0zM475.5 520a4.5 4.5 0 1 0 9.0 0a4.5 4.5 0 1 0 -9.0 0zM515.5 480a4.5 4.5 0 1 0 9.0 0a4.5 4.5 0 1 0 -9.0 0zM515.5 520a4.5 4.5 0 1 0 9.0 0a4.5 4.5 0 1 0 -9.0 0zM1715.5 520a4.5 4.5 0 1 0 9.0 0a4.5 4.5 0 1 0 -9.0 0zM1755.5 520a4.5 4.5 0 1 0 9.0 0a4.5 4.5 0 1 0 -9.0 0zM1795.5 480a4.5 4.5 0 1 0 9.0 0a4.5 4.5 0 1 0 -9.0 0zM1795.5 520a4.5 4.5 0 1 0 9.0 0a4.5 4.5 0 1 0 -9.0 0zM75.5 560a4.5 4.5 0 1 0 9.0 0a4.5 4.5 0 1 0 -9.0 0zM475.5 560a4.5 4.5 0 1 0 9.0 0a4.5 4.5 0 1 0 -9.0 0zM515.5 560a4.5 4.5 0 1 0 9.0 0a4.5 4.5 0 1 0 -9.0 0zM555.5 560a4.5 4.5 0 1 0 9.0 0a4.5 4.5 0 1 0 -9.0 0zM1795.5 560a4.5 4.5 0 1 0 9.0 0a4.5 4.5 0 1 0 -9.0 0zM1835.5 520a4.5 4.5 0 1 0 9.0 0a4.5 4.5 0 1 0 -9.0 0zM1835.5 560a4.5 4.5 0 1 0 9.0 0a4.5 4.5 0 1 0 -9.0 0zM35.5 600a4.5 4.5 0 1 0 9.0 0a4.5 4.5 0 1 0 -9.0 0zM75.5 600a4.5 4.5 0 1 0 9.0 0a4.5 4.5 0 1 0 -9.0 0zM115.5 600a4.5 4.5 0 1 0 9.0 0a4.5 4.5 0 1 0 -9.0 0zM155.5 560a4.5 4.5 0 1 0 9.0 0a4.5 4.5 0 1 0 -9.0 0zM155.5 600a4.5 4.5 0 1 0 9.0 0a4.5 4.5 0 1 0 -9.0 0zM1795.5 600a4.5 4.5 0 1 0 9.0 0a4.5 4.5 0 1 0 -9.0 0zM1835.5 600a4.5 4.5 0 1 0 9.0 0a4.5 4.5 0 1 0 -9.0 0zM1875.5 600a4.5 4.5 0 1 0 9.0 0a4.5 4.5 0 1 0 -9.0 0zM1915.5 560a4.5 4.5 0 1 0 9.0 0a4.5 4.5 0 1 0 -9.0 0zM1915.5 600a4.5 4.5 0 1 0 9.0 0a4.5 4.5 0 1 0 -9.0 0zM115.5 640a4.5 4.5 0 1 0 9.0 0a4.5 4.5 0 1 0 -9.0 0zM155.5 640a4.5 4.5 0 1 0 9.0 0a4.5 4.5 0 1 0 -9.0 0zM195.5 640a4.5 4.5 0 1 0 9.0 0a4.5 4.5 0 1 0 -9.0 0zM1395.5 600a4.5 4.5 0 1 0 9.0 0a4.5 4.5 0 1 0 -9.0 0zM1435.5 640a4.5 4.5 0 1 0 9.0 0a4.5 4.5 0 1 0 -9.0 0zM1475.5 600a4.5 4.5 0 1 0 9.0 0a4.5 4.5 0 1 0 -9.0 0zM1475.5 640a4.5 4.5 0 1 0 9.0 0a4.5 4.5 0 1 0 -9.0 0zM1915.5 640a4.5 4.5 0 1 0 9.0 0a4.5 4.5 0 1 0 -9.0 0zM155.5 680a4.5 4.5 0 1 0 9.0 0a4.5 4.5 0 1 0 -9.0 0zM195.5 680a4.5 4.5 0 1 0 9.0 0a4.5 4.5 0 1 0 -9.0 0zM235.5 640a4.5 4.5 0 1 0 9.0 0a4.5 4.5 0 1 0 -9.0 0zM235.5 680a4.5 4.5 0 1 0 9.0 0a4.5 4.5 0 1 0 -9.0 0zM1435.5 680a4.5 4.5 0 1 0 9.0 0a4.5 4.5 0 1 0 -9.0 0zM1475.5 680a4.5 4.5 0 1 0 9.0 0a4.5 4.5 0 1 0 -9.0 0zM1515.5 640a4.5 4.5 0 1 0 9.0 0a4.5 4.5 0 1 0 -9.0 0zM1515.5 680a4.5 4.5 0 1 0 9.0 0a4.5 4.5 0 1 0 -9.0 0zM1915.5 680a4.5 4.5 0 1 0 9.0 0a4.5 4.5 0 1 0 -9.0 0zM195.5 720a4.5 4.5 0 1 0 9.0 0a4.5 4.5 0 1 0 -9.0 0zM235.5 720a4.5 4.5 0 1 0 9.0 0a4.5 4.5 0 1 0 -9.0 0zM275.5 680a4.5 4.5 0 1 0 9.0 0a4.5 4.5 0 1 0 -9.0 0zM275.5 720a4.5 4.5 0 1 0 9.0 0a4.5 4.5 0 1 0 -9.0 0zM1515.5 720a4.5 4.5 0 1 0 9.0 0a4.5 4.5 0 1 0 -9.0 0zM1555.5 680a4.5 4.5 0 1 0 9.0 0a4.5 4.5 0 1 0 -9.0 0zM1555.5 720a4.5 4.5 0 1 0 9.0 0a4.5 4.5 0 1 0 -9.0 0zM1835.5 720a4.5 4.5 0 1 0 9.0 0a4.5 4.5 0 1 0 -9.0 0zM1875.5 720a4.5 4.5 0 1 0 9.0 0a4.5 4.5 0 1 0 -9.0 0zM1915.5 720a4.5 4.5 0 1 0 9.0 0a4.5 4.5 0 1 0 -9.0 0zM235.5 760a4.5 4.5 0 1 0 9.0 0a4.5 4.5 0 1 0 -9.0 0zM275.5 760a4.5 4.5 0 1 0 9.0 0a4.5 4.5 0 1 0 -9.0 0zM315.5 760a4.5 4.5 0 1 0 9.0 0a4.5 4.5 0 1 0 -9.0 0zM355.5 720a4.5 4.5 0 1 0 9.0 0a4.5 4.5 0 1 0 -9.0 0zM355.5 760a4.5 4.5 0 1 0 9.0 0a4.5 4.5 0 1 0 -9.0 0zM395.5 760a4.5 4.5 0 1 0 9.0 0a4.5 4.5 0 1 0 -9.0 0zM915.5 760a4.5 4.5 0 1 0 9.0 0a4.5 4.5 0 1 0 -9.0 0zM995.5 720a4.5 4.5 0 1 0 9.0 0a4.5 4.5 0 1 0 -9.0 0zM1035.5 760a4.5 4.5 0 1 0 9.0 0a4.5 4.5 0 1 0 -9.0 0zM1795.5 760a4.5 4.5 0 1 0 9.0 0a4.5 4.5 0 1 0 -9.0 0zM1875.5 760a4.5 4.5 0 1 0 9.0 0a4.5 4.5 0 1 0 -9.0 0zM395.5 800a4.5 4.5 0 1 0 9.0 0a4.5 4.5 0 1 0 -9.0 0zM435.5 800a4.5 4.5 0 1 0 9.0 0a4.5 4.5 0 1 0 -9.0 0zM475.5 760a4.5 4.5 0 1 0 9.0 0a4.5 4.5 0 1 0 -9.0 0zM475.5 800a4.5 4.5 0 1 0 9.0 0a4.5 4.5 0 1 0 -9.0 0zM515.5 800a4.5 4.5 0 1 0 9.0 0a4.5 4.5 0 1 0 -9.0 0zM635.5 760a4.5 4.5 0 1 0 9.0 0a4.5 4.5 0 1 0 -9.0 0zM675.5 760a4.5 4.5 0 1 0 9.0 0a4.5 4.5 0 1 0 -9.0 0zM675.5 800a4.5 4.5 0 1 0 9.0 0a4.5 4.5 0 1 0 -9.0 0zM715.5 800a4.5 4.5 0 1 0 9.0 0a4.5 4.5 0 1 0 -9.0 0zM955.5 800a4.5 4.5 0 1 0 9.0 0a4.5 4.5 0 1 0 -9.0 0zM995.5 800a4.5 4.5 0 1 0 9.0 0a4.5 4.5 0 1 0 -9.0 0zM1035.5 800a4.5 4.5 0 1 0 9.0 0a4.5 4.5 0 1 0 -9.0 0zM1795.5 800a4.5 4.5 0 1 0 9.0 0a4.5 4.5 0 1 0 -9.0 0zM1835.5 800a4.5 4.5 0 1 0 9.0 0a4.5 4.5 0 1 0 -9.0 0zM1875.5 800a4.5 4.5 0 1 0 9.0 0a4.5 4.5 0 1 0 -9.0 0zM355.5 840a4.5 4.5 0 1 0 9.0 0a4.5 4.5 0 1 0 -9.0 0zM395.5 840a4.5 4.5 0 1 0 9.0 0a4.5 4.5 0 1 0 -9.0 0zM555.5 840a4.5 4.5 0 1 0 9.0 0a4.5 4.5 0 1 0 -9.0 0zM715.5 840a4.5 4.5 0 1 0 9.0 0a4.5 4.5 0 1 0 -9.0 0zM755.5 800a4.5 4.5 0 1 0 9.0 0a4.5 4.5 0 1 0 -9.0 0zM755.5 840a4.5 4.5 0 1 0 9.0 0a4.5 4.5 0 1 0 -9.0 0zM1835.5 840a4.5 4.5 0 1 0 9.0 0a4.5 4.5 0 1 0 -9.0 0zM1875.5 840a4.5 4.5 0 1 0 9.0 0a4.5 4.5 0 1 0 -9.0 0zM1915.5 800a4.5 4.5 0 1 0 9.0 0a4.5 4.5 0 1 0 -9.0 0zM1915.5 840a4.5 4.5 0 1 0 9.0 0a4.5 4.5 0 1 0 -9.0 0zM395.5 880a4.5 4.5 0 1 0 9.0 0a4.5 4.5 0 1 0 -9.0 0zM435.5 880a4.5 4.5 0 1 0 9.0 0a4.5 4.5 0 1 0 -9.0 0zM475.5 880a4.5 4.5 0 1 0 9.0 0a4.5 4.5 0 1 0 -9.0 0zM515.5 880a4.5 4.5 0 1 0 9.0 0a4.5 4.5 0 1 0 -9.0 0zM595.5 880a4.5 4.5 0 1 0 9.0 0a4.5 4.5 0 1 0 -9.0 0zM795.5 840a4.5 4.5 0 1 0 9.0 0a4.5 4.5 0 1 0 -9.0 0zM755.5 880a4.5 4.5 0 1 0 9.0 0a4.5 4.5 0 1 0 -9.0 0zM795.5 880a4.5 4.5 0 1 0 9.0 0a4.5 4.5 0 1 0 -9.0 0zM835.5 880a4.5 4.5 0 1 0 9.0 0a4.5 4.5 0 1 0 -9.0 0zM1915.5 880a4.5 4.5 0 1 0 9.0 0a4.5 4.5 0 1 0 -9.0 0zM555.5 920a4.5 4.5 0 1 0 9.0 0a4.5 4.5 0 1 0 -9.0 0zM595.5 920a4.5 4.5 0 1 0 9.0 0a4.5 4.5 0 1 0 -9.0 0zM635.5 920a4.5 4.5 0 1 0 9.0 0a4.5 4.5 0 1 0 -9.0 0zM675.5 920a4.5 4.5 0 1 0 9.0 0a4.5 4.5 0 1 0 -9.0 0zM715.5 920a4.5 4.5 0 1 0 9.0 0a4.5 4.5 0 1 0 -9.0 0zM755.5 920a4.5 4.5 0 1 0 9.0 0a4.5 4.5 0 1 0 -9.0 0zM795.5 920a4.5 4.5 0 1 0 9.0 0a4.5 4.5 0 1 0 -9.0 0zM835.5 920a4.5 4.5 0 1 0 9.0 0a4.5 4.5 0 1 0 -9.0 0zM875.5 920a4.5 4.5 0 1 0 9.0 0a4.5 4.5 0 1 0 -9.0 0zM1915.5 920a4.5 4.5 0 1 0 9.0 0a4.5 4.5 0 1 0 -9.0 0zM835.5 960a4.5 4.5 0 1 0 9.0 0a4.5 4.5 0 1 0 -9.0 0zM875.5 960a4.5 4.5 0 1 0 9.0 0a4.5 4.5 0 1 0 -9.0 0zM915.5 960a4.5 4.5 0 1 0 9.0 0a4.5 4.5 0 1 0 -9.0 0zM955.5 960a4.5 4.5 0 1 0 9.0 0a4.5 4.5 0 1 0 -9.0 0zM995.5 960a4.5 4.5 0 1 0 9.0 0a4.5 4.5 0 1 0 -9.0 0zM1035.5 960a4.5 4.5 0 1 0 9.0 0a4.5 4.5 0 1 0 -9.0 0zM1075.5 920a4.5 4.5 0 1 0 9.0 0a4.5 4.5 0 1 0 -9.0 0zM1075.5 960a4.5 4.5 0 1 0 9.0 0a4.5 4.5 0 1 0 -9.0 0zM1115.5 960a4.5 4.5 0 1 0 9.0 0a4.5 4.5 0 1 0 -9.0 0zM1275.5 920a4.5 4.5 0 1 0 9.0 0a4.5 4.5 0 1 0 -9.0 0zM1315.5 960a4.5 4.5 0 1 0 9.0 0a4.5 4.5 0 1 0 -9.0 0zM1355.5 960a4.5 4.5 0 1 0 9.0 0a4.5 4.5 0 1 0 -9.0 0zM1395.5 920a4.5 4.5 0 1 0 9.0 0a4.5 4.5 0 1 0 -9.0 0zM1395.5 960a4.5 4.5 0 1 0 9.0 0a4.5 4.5 0 1 0 -9.0 0zM1915.5 960a4.5 4.5 0 1 0 9.0 0a4.5 4.5 0 1 0 -9.0 0zM1115.5 1000a4.5 4.5 0 1 0 9.0 0a4.5 4.5 0 1 0 -9.0 0zM1915.5 1000a4.5 4.5 0 1 0 9.0 0a4.5 4.5 0 1 0 -9.0 0zM1075.5 1040a4.5 4.5 0 1 0 9.0 0a4.5 4.5 0 1 0 -9.0 0zM1115.5 1040a4.5 4.5 0 1 0 9.0 0a4.5 4.5 0 1 0 -9.0 0zM1155.5 1000a4.5 4.5 0 1 0 9.0 0a4.5 4.5 0 1 0 -9.0 0zM1155.5 1040a4.5 4.5 0 1 0 9.0 0a4.5 4.5 0 1 0 -9.0 0zM1195.5 1040a4.5 4.5 0 1 0 9.0 0a4.5 4.5 0 1 0 -9.0 0zM1555.5 1000a4.5 4.5 0 1 0 9.0 0a4.5 4.5 0 1 0 -9.0 0zM1515.5 1040a4.5 4.5 0 1 0 9.0 0a4.5 4.5 0 1 0 -9.0 0zM1595.5 1000a4.5 4.5 0 1 0 9.0 0a4.5 4.5 0 1 0 -9.0 0zM1595.5 1040a4.5 4.5 0 1 0 9.0 0a4.5 4.5 0 1 0 -9.0 0zM1915.5 1040a4.5 4.5 0 1 0 9.0 0a4.5 4.5 0 1 0 -9.0 0zM1155.5 1080a4.5 4.5 0 1 0 9.0 0a4.5 4.5 0 1 0 -9.0 0zM1195.5 1080a4.5 4.5 0 1 0 9.0 0a4.5 4.5 0 1 0 -9.0 0zM1235.5 1080a4.5 4.5 0 1 0 9.0 0a4.5 4.5 0 1 0 -9.0 0zM1475.5 1080a4.5 4.5 0 1 0 9.0 0a4.5 4.5 0 1 0 -9.0 0zM1515.5 1080a4.5 4.5 0 1 0 9.0 0a4.5 4.5 0 1 0 -9.0 0zM1555.5 1080a4.5 4.5 0 1 0 9.0 0a4.5 4.5 0 1 0 -9.0 0zM1595.5 1080a4.5 4.5 0 1 0 9.0 0a4.5 4.5 0 1 0 -9.0 0zM1635.5 1040a4.5 4.5 0 1 0 9.0 0a4.5 4.5 0 1 0 -9.0 0zM1635.5 1080a4.5 4.5 0 1 0 9.0 0a4.5 4.5 0 1 0 -9.0 0zM1915.5 1080a4.5 4.5 0 1 0 9.0 0a4.5 4.5 0 1 0 -9.0 0zM1195.5 1120a4.5 4.5 0 1 0 9.0 0a4.5 4.5 0 1 0 -9.0 0zM1235.5 1120a4.5 4.5 0 1 0 9.0 0a4.5 4.5 0 1 0 -9.0 0zM1275.5 1120a4.5 4.5 0 1 0 9.0 0a4.5 4.5 0 1 0 -9.0 0zM1315.5 1120a4.5 4.5 0 1 0 9.0 0a4.5 4.5 0 1 0 -9.0 0zM1355.5 1120a4.5 4.5 0 1 0 9.0 0a4.5 4.5 0 1 0 -9.0 0zM1395.5 1120a4.5 4.5 0 1 0 9.0 0a4.5 4.5 0 1 0 -9.0 0zM1435.5 1120a4.5 4.5 0 1 0 9.0 0a4.5 4.5 0 1 0 -9.0 0zM1475.5 1120a4.5 4.5 0 1 0 9.0 0a4.5 4.5 0 1 0 -9.0 0zM1515.5 1120a4.5 4.5 0 1 0 9.0 0a4.5 4.5 0 1 0 -9.0 0zM1595.5 1120a4.5 4.5 0 1 0 9.0 0a4.5 4.5 0 1 0 -9.0 0zM1635.5 1120a4.5 4.5 0 1 0 9.0 0a4.5 4.5 0 1 0 -9.0 0zM1675.5 1120a4.5 4.5 0 1 0 9.0 0a4.5 4.5 0 1 0 -9.0 0zM1715.5 1120a4.5 4.5 0 1 0 9.0 0a4.5 4.5 0 1 0 -9.0 0zM1755.5 1120a4.5 4.5 0 1 0 9.0 0a4.5 4.5 0 1 0 -9.0 0zM1795.5 1120a4.5 4.5 0 1 0 9.0 0a4.5 4.5 0 1 0 -9.0 0zM1835.5 1120a4.5 4.5 0 1 0 9.0 0a4.5 4.5 0 1 0 -9.0 0zM1875.5 1120a4.5 4.5 0 1 0 9.0 0a4.5 4.5 0 1 0 -9.0 0zM1915.5 1120a4.5 4.5 0 1 0 9.0 0a4.5 4.5 0 1 0 -9.0 0z" fill="#232227"/>
<path d="M40 40L80 40M40 40L40 80M80 40L120 40M120 40L160 40M160 40L200 40M200 40L240 40M240 40L280 40M280 40L320 40M320 40L360 40M440 40L480 40M440 40L440 80M480 40L520 40M520 40L560 40M560 40L600 40M600 40L640 40M640 40L680 40M680 40L720 40M720 40L760 40M40 80L40 120M320 80L320 120M360 80L400 80M400 80L440 80M760 80L800 80M40 120L40 160M360 120L360 160M800 120L840 120M840 120L880 120M40 160L40 200M840 160L840 200M40 200L40 240M560 200L600 200M560 200L560 240M600 200L640 200M880 200L920 200M920 200L960 200M960 200L1000 200M1000 200L1040 200M1040 200L1080 200M1080 200L1120 200M40 240L40 280M1120 240L1160 240M1200 240L1240 240M1200 240L1200 280M1240 240L1280 240M1280 240L1320 240M1320 240L1360 240M1360 240L1400 240M40 280L40 320M1160 280L1200 280M1440 280L1480 280M1480 280L1520 280M1520 280L1560 280M40 320L40 360M80 320L120 320M1200 320L1200 360M1560 320L1560 360M80 360L80 400M120 360L160 360M920 360L960 360M920 360L920 400M960 360L1000 360M1480 360L1520 360M1520 360L1560 360M80 400L80 440M1600 400L1640 400M1640 400L1680 400M1680 400L1720 400M40 440L80 440M40 440L40 480M400 440L440 440M400 440L400 480M1680 440L1680 480M1720 440L1760 440M40 480L40 520M440 480L440 520M480 480L520 480M1720 480L1720 520M1760 480L1800 480M40 520L40 560M480 520L480 560M1800 520L1840 520M40 560L40 600M80 560L120 560M120 560L160 560M1800 560L1800 600M1840 560L1880 560M1880 560L1920 560M120 600L120 640M1400 600L1440 600M1440 600L1480 600M1880 600L1880 640M160 640L160 680M200 640L240 640M1440 640L1440 680M1480 640L1520 640M1880 640L1880 680M200 680L200 720M240 680L280 680M1520 680L1560 680M1840 680L1880 680M1840 680L1840 720M240 720L240 760M280 720L320 720M320 720L360 720M920 720L960 720M920 720L920 760M960 720L1000 720M360 760L360 800M400 760L440 760M440 760L480 760M640 760L680 760M1800 760L1800 800M360 800L360 840M480 800L480 840M720 800L760 800M1840 800L1840 840M1880 800L1920 800M400 840L440 840M440 840L480 840M720 840L720 880M760 840L800 840M1880 840L1880 880M600 880L640 880M640 880L680 880M680 880L720 880M800 880L800 920M1880 880L1880 920M840 920L840 960M880 920L920 920M920 920L960 920M960 920L1000 920M1000 920L1040 920M1040 920L1080 920M1280 920L1320 920M1320 920L1360 920M1360 920L1400 920M1880 920L1880 960M1080 960L1080 1000M1880 960L1880 1000M1080 1000L1080 1040M1120 1000L1160 1000M1560 1000L1600 1000M1880 1000L1880 1040M1160 1040L1160 1080M1600 1040L1640 1040M1880 1040L1880 1080M1200 1080L1200 1120M1240 1080L1280 1080M1280 1080L1320 1080M1320 1080L1360 1080M1360 1080L1400 1080M1400 1080L1440 1080M1440 1080L1480 1080M1600 1080L1600 1120M1640 1080L1680 1080M1680 1080L1720 1080M1720 1080L1760 1080M1760 1080L1800 1080M1800 1080L1840 1080M1840 1080L1880 1080" stroke="#35343a" stroke-width="9.4"/><path d="M35.3 40a4.7 4.7 0 1 0 9.4 0a4.7 4.7 0 1 0 -9.4 0zM75.3 40a4.7 4.7 0 1 0 9.4 0a4.7 4.7 0 1 0 -9.4 0zM35.3 80a4.7 4.7 0 1 0 9.4 0a4.7 4.7 0 1 0 -9.4 0zM115.3 40a4.7 4.7 0 1 0 9.4 0a4.7 4.7 0 1 0 -9.4 0zM155.3 40a4.7 4.7 0 1 0 9.4 0a4.7 4.7 0 1 0 -9.4 0zM195.3 40a4.7 4.7 0 1 0 9.4 0a4.7 4.7 0 1 0 -9.4 0zM235.3 40a4.7 4.7 0 1 0 9.4 0a4.7 4.7 0 1 0 -9.4 0zM275.3 40a4.7 4.7 0 1 0 9.4 0a4.7 4.7 0 1 0 -9.4 0zM315.3 40a4.7 4.7 0 1 0 9.4 0a4.7 4.7 0 1 0 -9.4 0zM435.3 40a4.7 4.7 0 1 0 9.4 0a4.7 4.7 0 1 0 -9.4 0zM475.3 40a4.7 4.7 0 1 0 9.4 0a4.7 4.7 0 1 0 -9.4 0zM435.3 80a4.7 4.7 0 1 0 9.4 0a4.7 4.7 0 1 0 -9.4 0zM515.3 40a4.7 4.7 0 1 0 9.4 0a4.7 4.7 0 1 0 -9.4 0zM555.3 40a4.7 4.7 0 1 0 9.4 0a4.7 4.7 0 1 0 -9.4 0zM595.3 40a4.7 4.7 0 1 0 9.4 0a4.7 4.7 0 1 0 -9.4 0zM635.3 40a4.7 4.7 0 1 0 9.4 0a4.7 4.7 0 1 0 -9.4 0zM675.3 40a4.7 4.7 0 1 0 9.4 0a4.7 4.7 0 1 0 -9.4 0zM715.3 40a4.7 4.7 0 1 0 9.4 0a4.7 4.7 0 1 0 -9.4 0zM35.3 120a4.7 4.7 0 1 0 9.4 0a4.7 4.7 0 1 0 -9.4 0zM395.3 80a4.7 4.7 0 1 0 9.4 0a4.7 4.7 0 1 0 -9.4 0zM35.3 160a4.7 4.7 0 1 0 9.4 0a4.7 4.7 0 1 0 -9.4 0zM835.3 120a4.7 4.7 0 1 0 9.4 0a4.7 4.7 0 1 0 -9.4 0zM35.3 200a4.7 4.7 0 1 0 9.4 0a4.7 4.7 0 1 0 -9.4 0zM35.3 240a4.7 4.7 0 1 0 9.4 0a4.7 4.7 0 1 0 -9.4 0zM555.3 200a4.7 4.7 0 1 0 9.4 0a4.7 4.7 0 1 0 -9.4 0zM595.3 200a4.7 4.7 0 1 0 9.4 0a4.7 4.7 0 1 0 -9.4 0zM915.3 200a4.7 4.7 0 1 0 9.4 0a4.7 4.7 0 1 0 -9.4 0zM955.3 200a4.7 4.7 0 1 0 9.4 0a4.7 4.7 0 1 0 -9.4 0zM995.3 200a4.7 4.7 0 1 0 9.4 0a4.7 4.7 0 1 0 -9.4 0zM1035.3 200a4.7 4.7 0 1 0 9.4 0a4.7 4.7 0 1 0 -9.4 0zM1075.3 200a4.7 4.7 0 1 0 9.4 0a4.7 4.7 0 1 0 -9.4 0zM35.3 280a4.7 4.7 0 1 0 9.4 0a4.7 4.7 0 1 0 -9.4 0zM1195.3 240a4.7 4.7 0 1 0 9.4 0a4.7 4.7 0 1 0 -9.4 0zM1235.3 240a4.7 4.7 0 1 0 9.4 0a4.7 4.7 0 1 0 -9.4 0zM1195.3 280a4.7 4.7 0 1 0 9.4 0a4.7 4.7 0 1 0 -9.4 0zM1275.3 240a4.7 4.7 0 1 0 9.4 0a4.7 4.7 0 1 0 -9.4 0zM1315.3 240a4.7 4.7 0 1 0 9.4 0a4.7 4.7 0 1 0 -9.4 0zM1355.3 240a4.7 4.7 0 1 0 9.4 0a4.7 4.7 0 1 0 -9.4 0zM35.3 320a4.7 4.7 0 1 0 9.4 0a4.7 4.7 0 1 0 -9.4 0zM1475.3 280a4.7 4.7 0 1 0 9.4 0a4.7 4.7 0 1 0 -9.4 0zM1515.3 280a4.7 4.7 0 1 0 9.4 0a4.7 4.7 0 1 0 -9.4 0zM1555.3 360a4.7 4.7 0 1 0 9.4 0a4.7 4.7 0 1 0 -9.4 0zM75.3 400a4.7 4.7 0 1 0 9.4 0a4.7 4.7 0 1 0 -9.4 0zM915.3 360a4.7 4.7 0 1 0 9.4 0a4.7 4.7 0 1 0 -9.4 0zM955.3 360a4.7 4.7 0 1 0 9.4 0a4.7 4.7 0 1 0 -9.4 0zM1515.3 360a4.7 4.7 0 1 0 9.4 0a4.7 4.7 0 1 0 -9.4 0zM75.3 440a4.7 4.7 0 1 0 9.4 0a4.7 4.7 0 1 0 -9.4 0zM1635.3 400a4.7 4.7 0 1 0 9.4 0a4.7 4.7 0 1 0 -9.4 0zM1675.3 400a4.7 4.7 0 1 0 9.4 0a4.7 4.7 0 1 0 -9.4 0zM35.3 440a4.7 4.7 0 1 0 9.4 0a4.7 4.7 0 1 0 -9.4 0zM35.3 480a4.7 4.7 0 1 0 9.4 0a4.7 4.7 0 1 0 -9.4 0zM395.3 440a4.7 4.7 0 1 0 9.4 0a4.7 4.7 0 1 0 -9.4 0zM35.3 520a4.7 4.7 0 1 0 9.4 0a4.7 4.7 0 1 0 -9.4 0zM35.3 560a4.7 4.7 0 1 0 9.4 0a4.7 4.7 0 1 0 -9.4 0zM115.3 560a4.7 4.7 0 1 0 9.4 0a4.7 4.7 0 1 0 -9.4 0zM1875.3 560a4.7 4.7 0 1 0 9.4 0a4.7 4.7 0 1 0 -9.4 0zM1435.3 600a4.7 4.7 0 1 0 9.4 0a4.7 4.7 0 1 0 -9.4 0zM1875.3 640a4.7 4.7 0 1 0 9.4 0a4.7 4.7 0 1 0 -9.4 0zM1875.3 680a4.7 4.7 0 1 0 9.4 0a4.7 4.7 0 1 0 -9.4 0zM1835.3 680a4.7 4.7 0 1 0 9.4 0a4.7 4.7 0 1 0 -9.4 0zM315.3 720a4.7 4.7 0 1 0 9.4 0a4.7 4.7 0 1 0 -9.4 0zM915.3 720a4.7 4.7 0 1 0 9.4 0a4.7 4.7 0 1 0 -9.4 0zM955.3 720a4.7 4.7 0 1 0 9.4 0a4.7 4.7 0 1 0 -9.4 0zM355.3 800a4.7 4.7 0 1 0 9.4 0a4.7 4.7 0 1 0 -9.4 0zM435.3 760a4.7 4.7 0 1 0 9.4 0a4.7 4.7 0 1 0 -9.4 0zM475.3 840a4.7 4.7 0 1 0 9.4 0a4.7 4.7 0 1 0 -9.4 0zM435.3 840a4.7 4.7 0 1 0 9.4 0a4.7 4.7 0 1 0 -9.4 0zM715.3 880a4.7 4.7 0 1 0 9.4 0a4.7 4.7 0 1 0 -9.4 0zM1875.3 880a4.7 4.7 0 1 0 9.4 0a4.7 4.7 0 1 0 -9.4 0zM635.3 880a4.7 4.7 0 1 0 9.4 0a4.7 4.7 0 1 0 -9.4 0zM675.3 880a4.7 4.7 0 1 0 9.4 0a4.7 4.7 0 1 0 -9.4 0zM1875.3 920a4.7 4.7 0 1 0 9.4 0a4.7 4.7 0 1 0 -9.4 0zM915.3 920a4.7 4.7 0 1 0 9.4 0a4.7 4.7 0 1 0 -9.4 0zM955.3 920a4.7 4.7 0 1 0 9.4 0a4.7 4.7 0 1 0 -9.4 0zM995.3 920a4.7 4.7 0 1 0 9.4 0a4.7 4.7 0 1 0 -9.4 0zM1035.3 920a4.7 4.7 0 1 0 9.4 0a4.7 4.7 0 1 0 -9.4 0zM1315.3 920a4.7 4.7 0 1 0 9.4 0a4.7 4.7 0 1 0 -9.4 0zM1355.3 920a4.7 4.7 0 1 0 9.4 0a4.7 4.7 0 1 0 -9.4 0zM1875.3 960a4.7 4.7 0 1 0 9.4 0a4.7 4.7 0 1 0 -9.4 0zM1075.3 1000a4.7 4.7 0 1 0 9.4 0a4.7 4.7 0 1 0 -9.4 0zM1875.3 1000a4.7 4.7 0 1 0 9.4 0a4.7 4.7 0 1 0 -9.4 0zM1875.3 1040a4.7 4.7 0 1 0 9.4 0a4.7 4.7 0 1 0 -9.4 0zM1875.3 1080a4.7 4.7 0 1 0 9.4 0a4.7 4.7 0 1 0 -9.4 0zM1275.3 1080a4.7 4.7 0 1 0 9.4 0a4.7 4.7 0 1 0 -9.4 0zM1315.3 1080a4.7 4.7 0 1 0 9.4 0a4.7 4.7 0 1 0 -9.4 0zM1355.3 1080a4.7 4.7 0 1 0 9.4 0a4.7 4.7 0 1 0 -9.4 0zM1395.3 1080a4.7 4.7 0 1 0 9.4 0a4.7 4.7 0 1 0 -9.4 0zM1435.3 1080a4.7 4.7 0 1 0 9.4 0a4.7 4.7 0 1 0 -9.4 0zM1675.3 1080a4.7 4.7 0 1 0 9.4 0a4.7 4.7 0 1 0 -9.4 0zM1715.3 1080a4.7 4.7 0 1 0 9.4 0a4.7 4.7 0 1 0 -9.4 0zM1755.3 1080a4.7 4.7 0 1 0 9.4 0a4.7 4.7 0 1 0 -9.4 0zM1795.3 1080a4.7 4.7 0 1 0 9.4 0a4.7 4.7 0 1 0 -9.4 0zM1835.3 1080a4.7 4.7 0 1 0 9.4 0a4.7 4.7 0 1 0 -9.4 0z" fill="#35343a"/>
</g>
<use href="#gear" x="100" y="500"/>
<use href="#gear" x="100" y="540"/>
<use href="#gear" x="420" y="500"/>
<use href="#gear" x="460" y="540"/>
<use href="#gear" x="860" y="580"/>
<use href="#gear" x="1100" y="580"/>
<use href="#gear" x="1500" y="620"/>
<use href="#gear" x="1540" y="660"/>
<use href="#gear" x="1860" y="620"/>
<use href="#gear" x="1860" y="660"/>
<use href="#bomb" x="100" y="100"/>
<use href="#bomb" x="1860" y="1060"/>
<use href="#rflag" x="280" y="280"/>
<use href="#bflag" x="1640" y="840"/>
<use href="#coin" x="460" y="380"/>
<use href="#coin" x="1500" y="780"/>
<use href="#ycross" x="820" y="420"/>
<use href="#ycross" x="300" y="580"/>
<use href="#ycross" x="1660" y="580"/>
<use href="#ycross" x="1140" y="740"/>
<use href="#ocross" x="580" y="540"/>
<use href="#tcross" x="1380" y="620"/>
<use href="#portal" x="540" y="500"/>
<use href="#portal" x="1420" y="660"/>
<use href="#pup" x="1380" y="500"/>
<use href="#pup" x="980" y="580"/>
<use href="#pup" x="580" y="660"/>
<use href="#boost" x="1260" y="300"/>
<use href="#boost" x="1300" y="300"/>
<use href="#boost" x="1340" y="300"/>
<use href="#boost" x="620" y="860"/>
<use href="#boost" x="660" y="860"/>
<use href="#boost" x="700" y="860"/>
<rect x="1215" y="276" width="5" height="24" rx="1.5" fill="#2a292e"/>
<rect x="1575" y="356" width="5" height="24" rx="1.5" fill="#2a292e"/>
<rect x="95" y="436" width="5" height="24" rx="1.5" fill="#2a292e"/>
<rect x="1895" y="676" width="5" height="24" rx="1.5" fill="#2a292e"/>
<rect x="495" y="836" width="5" height="24" rx="1.5" fill="#2a292e"/>
<rect x="735" y="876" width="5" height="24" rx="1.5" fill="#2a292e"/>
<rect x="1895" y="1076" width="5" height="24" rx="1.5" fill="#2a292e"/>
<rect x="455" y="75" width="4" height="4" rx="1.5" fill="#2a292e"/>
</svg></body></html>
